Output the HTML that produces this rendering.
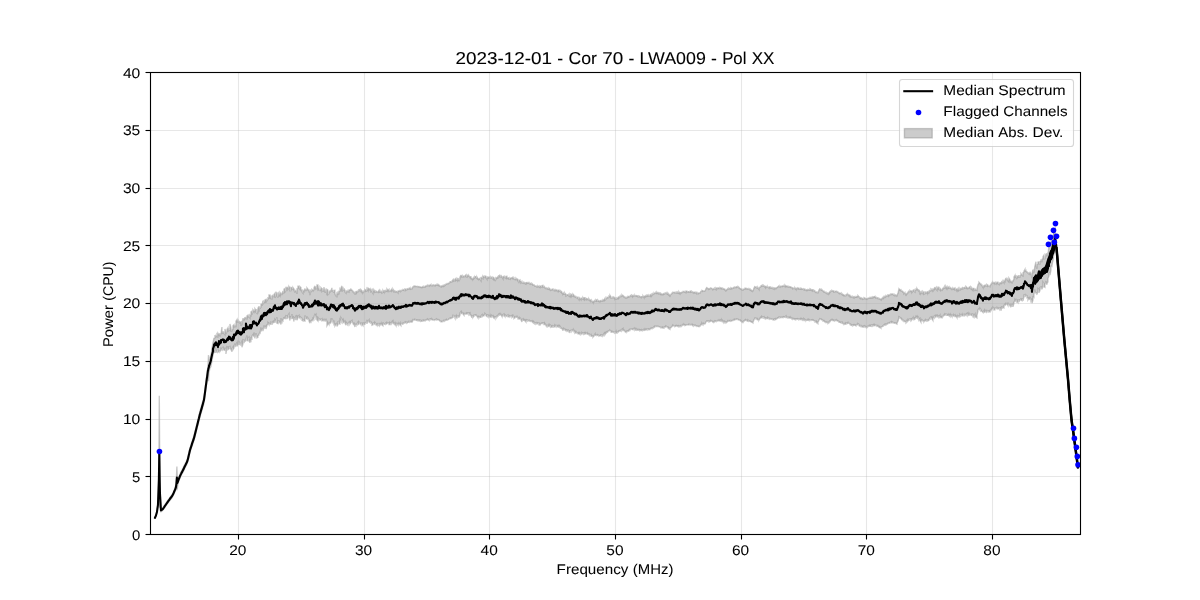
<!DOCTYPE html>
<html lang="en"><head><meta charset="utf-8"><title>2023-12-01 - Cor 70 - LWA009 - Pol XX</title>
<style>html,body{margin:0;padding:0;background:#fff;}body{width:1200px;height:600px;overflow:hidden;}svg{display:block;}text{font-family:"Liberation Sans",sans-serif;fill:#000;text-rendering:geometricPrecision;}svg{will-change:transform;}.tk{font-size:14.1px;stroke:#000;stroke-width:0.04px;}.ti{font-size:17.2px;stroke:#000;stroke-width:0.08px;}</style></head><body>
<svg width="1200" height="600" viewBox="0 0 1200 600">
<defs><clipPath id="ax"><rect x="150.5" y="72.5" width="930" height="462"/></clipPath></defs>
<rect x="0" y="0" width="1200" height="600" fill="#ffffff"/>
<g clip-path="url(#ax)">
<path d="M154.95,517.14 L154.95,517.12 L155.95,514.89 L155.95,514.90 L156.95,511.20 L156.95,511.18 L157.95,503.87 L157.95,503.89 L158.90,460.97 L158.90,460.99 L158.95,454.46 L158.95,454.45 L159.30,395.68 L159.30,395.64 L159.70,460.91 L159.70,460.93 L159.95,488.80 L159.95,488.82 L160.95,509.14 L160.95,509.16 L161.95,508.64 L161.95,508.60 L162.95,507.79 L162.95,507.81 L163.95,506.31 L163.95,506.29 L164.95,504.83 L164.95,504.79 L165.95,503.26 L165.95,503.30 L166.95,501.76 L166.95,501.78 L167.95,500.31 L167.95,500.29 L168.95,498.96 L168.95,498.93 L169.95,497.58 L169.95,497.57 L170.95,496.21 L170.95,496.24 L171.95,494.82 L171.95,494.84 L172.95,493.08 L172.95,493.10 L173.95,490.81 L173.95,490.77 L174.95,488.44 L174.95,488.47 L175.95,484.52 L175.95,484.49 L176.40,478.66 L176.40,478.62 L176.90,466.55 L176.90,466.56 L176.95,467.84 L176.95,467.87 L177.30,477.00 L177.30,476.98 L177.95,479.71 L177.95,479.67 L178.95,476.99 L178.95,476.94 L179.95,474.25 L179.95,474.23 L180.95,472.17 L180.95,472.25 L181.95,470.21 L181.95,470.19 L182.95,468.14 L182.95,468.17 L183.95,466.06 L183.95,466.14 L184.95,464.04 L184.95,463.98 L185.95,461.99 L185.95,461.99 L186.95,460.01 L186.95,459.98 L187.95,456.77 L187.95,456.82 L188.95,452.45 L188.95,452.39 L189.95,448.09 L189.95,448.02 L190.95,444.91 L190.95,444.89 L191.95,441.76 L191.95,441.81 L192.95,438.70 L192.95,438.73 L193.95,435.69 L193.95,435.65 L194.95,431.71 L194.95,431.78 L195.95,427.65 L195.95,427.69 L196.95,423.51 L196.95,423.58 L197.95,419.48 L197.95,419.58 L198.95,415.44 L198.95,415.41 L199.95,411.23 L199.95,411.35 L200.95,407.70 L200.95,407.80 L201.95,404.20 L201.95,404.24 L202.95,400.65 L202.95,400.58 L203.95,396.93 L203.95,397.03 L204.95,389.62 L204.95,389.68 L205.95,381.99 L205.95,382.08 L206.95,374.26 L206.95,374.53 L207.95,366.21 L207.95,366.30 L208.50,355.04 L208.50,355.36 L208.95,360.55 L208.95,360.58 L209.95,358.95 L209.95,358.43 L210.95,354.85 L210.95,354.56 L211.95,349.22 L211.95,348.64 L212.95,342.74 L212.95,343.25 L213.95,337.80 L213.95,338.49 L214.95,337.86 L214.95,334.95 L215.95,337.40 L215.95,335.69 L216.95,336.55 L216.95,332.72 L217.95,337.72 L217.95,333.20 L218.95,334.64 L218.95,335.71 L219.95,333.36 L219.95,336.64 L220.95,333.32 L220.95,334.37 L221.95,326.97 L221.95,333.82 L222.95,331.03 L222.95,333.95 L223.95,331.56 L223.95,333.13 L224.95,334.65 L224.95,328.88 L225.95,332.69 L225.95,333.94 L226.95,331.49 L226.95,329.47 L227.95,327.73 L227.95,331.81 L228.95,327.79 L228.95,330.40 L229.95,330.01 L229.95,323.96 L230.95,327.91 L230.95,331.02 L231.95,330.84 L231.95,329.40 L232.95,329.32 L232.95,325.86 L233.95,324.83 L233.95,327.49 L234.95,325.23 L234.95,324.87 L235.95,327.16 L235.95,321.22 L236.95,319.67 L236.95,322.73 L237.95,319.17 L237.95,321.46 L238.95,322.21 L238.95,320.64 L239.95,323.74 L239.95,321.86 L240.95,322.28 L240.95,326.01 L241.95,321.01 L241.95,325.26 L242.95,318.17 L242.95,320.57 L243.95,318.31 L243.95,319.80 L244.95,317.33 L244.95,318.83 L245.95,317.31 L245.95,316.63 L246.95,319.64 L246.95,315.95 L247.95,315.21 L247.95,317.09 L248.95,315.95 L248.95,316.44 L249.95,317.91 L249.95,314.89 L250.95,315.60 L250.95,311.78 L251.95,311.13 L251.95,314.59 L252.95,312.01 L252.95,309.97 L253.95,311.52 L253.95,310.49 L254.95,311.23 L254.95,308.81 L255.95,310.29 L255.95,312.51 L256.95,313.44 L256.95,308.93 L257.95,313.60 L257.95,308.22 L258.95,306.39 L258.95,311.68 L259.95,306.31 L259.95,308.32 L260.95,307.13 L260.95,304.37 L261.95,303.97 L261.95,305.88 L262.95,300.75 L262.95,304.05 L263.95,302.94 L263.95,301.17 L264.95,301.88 L264.95,300.00 L265.95,299.41 L265.95,302.52 L266.95,298.83 L266.95,300.75 L267.95,299.21 L267.95,296.99 L268.95,298.82 L268.95,294.92 L269.95,294.96 L269.95,298.59 L270.95,295.16 L270.95,298.58 L271.95,298.78 L271.95,297.28 L272.95,294.65 L272.95,296.37 L273.95,296.63 L273.95,294.51 L274.95,293.23 L274.95,297.85 L275.95,295.54 L275.95,291.75 L276.95,294.58 L276.95,295.71 L277.95,297.66 L277.95,292.22 L278.95,296.69 L278.95,293.57 L279.95,295.32 L279.95,292.41 L280.95,293.81 L280.95,294.66 L281.95,293.22 L281.95,293.93 L282.95,291.08 L282.95,293.43 L283.95,292.06 L283.95,289.17 L284.95,288.57 L284.95,292.04 L285.95,290.83 L285.95,286.75 L286.95,288.96 L286.95,287.93 L287.95,287.27 L287.95,289.29 L288.95,287.89 L288.95,286.39 L289.95,287.85 L289.95,290.72 L290.95,290.65 L290.95,287.47 L291.95,287.71 L291.95,289.11 L292.95,289.45 L292.95,287.43 L293.95,288.90 L293.95,289.82 L294.95,292.55 L294.95,290.20 L295.95,291.44 L295.95,290.25 L296.95,293.92 L296.95,288.78 L297.95,288.52 L297.95,286.30 L298.95,286.30 L298.95,287.51 L299.95,289.18 L299.95,286.65 L300.95,287.52 L300.95,289.29 L301.95,290.62 L301.95,291.81 L302.95,293.17 L302.95,290.47 L303.95,291.45 L303.95,290.88 L304.95,288.58 L304.95,290.90 L305.95,288.75 L305.95,291.00 L306.95,289.00 L306.95,287.81 L307.95,289.18 L307.95,290.01 L308.95,289.86 L308.95,292.59 L309.95,290.30 L309.95,295.22 L310.95,289.44 L310.95,291.86 L311.95,290.87 L311.95,289.56 L312.95,290.60 L312.95,289.97 L313.95,289.92 L313.95,287.81 L314.95,285.92 L314.95,287.63 L315.95,286.96 L315.95,288.97 L316.95,288.21 L316.95,284.95 L317.95,285.02 L317.95,288.99 L318.95,287.31 L318.95,290.33 L319.95,290.63 L319.95,288.45 L320.95,290.82 L320.95,287.61 L321.95,288.80 L321.95,291.40 L322.95,290.37 L322.95,288.35 L323.95,291.78 L323.95,287.12 L324.95,292.59 L324.95,289.98 L325.95,292.66 L325.95,288.48 L326.95,295.25 L326.95,289.33 L327.95,290.08 L327.95,294.69 L328.95,293.74 L328.95,292.79 L329.95,290.46 L329.95,292.58 L330.95,289.88 L330.95,291.72 L331.95,287.84 L331.95,290.23 L332.95,290.40 L332.95,291.63 L333.95,292.27 L333.95,290.34 L334.95,290.31 L334.95,293.82 L335.95,296.21 L335.95,293.60 L336.95,297.44 L336.95,293.09 L337.95,293.91 L337.95,291.28 L338.95,294.39 L338.95,291.15 L339.95,291.20 L339.95,288.70 L340.95,289.76 L340.95,288.04 L341.95,285.92 L341.95,291.75 L342.95,286.72 L342.95,289.75 L343.95,290.47 L343.95,288.42 L344.95,290.51 L344.95,291.96 L345.95,292.98 L345.95,290.51 L346.95,292.45 L346.95,291.24 L347.95,291.62 L347.95,290.85 L348.95,291.74 L348.95,289.93 L349.95,289.85 L349.95,290.79 L350.95,288.58 L350.95,290.08 L351.95,289.86 L351.95,289.66 L352.95,292.33 L352.95,290.85 L353.95,293.31 L353.95,291.72 L354.95,294.52 L354.95,291.52 L355.95,294.51 L355.95,291.61 L356.95,291.40 L356.95,292.44 L357.95,290.96 L357.95,292.28 L358.95,290.28 L358.95,289.08 L359.95,291.18 L359.95,288.86 L360.95,292.01 L360.95,289.65 L361.95,290.87 L361.95,292.21 L362.95,291.60 L362.95,292.79 L363.95,291.26 L363.95,291.82 L364.95,291.20 L364.95,289.57 L365.95,290.14 L365.95,291.21 L366.95,290.61 L366.95,288.85 L367.95,290.49 L367.95,287.98 L368.95,288.67 L368.95,289.76 L369.95,288.87 L369.95,289.70 L370.95,289.37 L370.95,291.40 L371.95,290.18 L371.95,291.83 L372.95,293.33 L372.95,289.91 L373.95,291.38 L373.95,289.93 L374.95,291.53 L374.95,291.87 L375.95,291.94 L375.95,291.08 L376.95,291.67 L376.95,292.05 L377.95,292.50 L377.95,291.66 L378.95,290.33 L378.95,292.40 L379.95,289.54 L379.95,291.97 L380.95,291.40 L380.95,291.94 L381.95,291.41 L381.95,292.93 L382.95,292.36 L382.95,290.43 L383.95,292.06 L383.95,289.90 L384.95,292.62 L384.95,290.01 L385.95,291.90 L385.95,290.61 L386.95,291.22 L386.95,288.94 L387.95,290.23 L387.95,290.57 L388.95,289.47 L388.95,291.59 L389.95,291.23 L389.95,290.51 L390.95,290.77 L390.95,290.34 L391.95,288.80 L391.95,290.83 L392.95,289.71 L392.95,288.62 L393.95,292.52 L393.95,290.01 L394.95,292.18 L394.95,290.58 L395.95,292.75 L395.95,291.57 L396.95,291.32 L396.95,291.56 L397.95,292.77 L397.95,291.33 L398.95,290.74 L398.95,291.14 L399.95,290.68 L399.95,292.08 L400.95,289.94 L400.95,291.24 L401.95,290.14 L401.95,290.27 L402.95,290.24 L402.95,290.08 L403.95,289.53 L403.95,290.47 L404.95,290.64 L404.95,288.98 L405.95,289.18 L405.95,290.06 L406.95,289.74 L406.95,289.08 L407.95,288.65 L407.95,289.08 L408.95,289.05 L408.95,288.73 L409.95,287.79 L409.95,288.82 L410.95,288.52 L410.95,289.15 L411.95,288.71 L411.95,289.12 L412.95,286.62 L412.95,286.63 L413.95,286.53 L413.95,286.10 L414.95,286.44 L414.95,286.09 L415.95,286.38 L415.95,286.34 L416.95,286.48 L416.95,286.55 L417.95,286.78 L417.95,286.46 L418.95,286.53 L418.95,286.73 L419.95,287.23 L419.95,286.85 L420.95,287.23 L420.95,287.06 L421.95,287.16 L421.95,287.26 L422.95,286.43 L422.95,287.33 L423.95,286.71 L423.95,286.96 L424.95,287.09 L424.95,286.61 L425.95,285.82 L425.95,286.47 L426.95,286.11 L426.95,285.64 L427.95,285.52 L427.95,285.18 L428.95,285.93 L428.95,285.30 L429.95,285.14 L429.95,285.38 L430.95,284.49 L430.95,285.52 L431.95,285.78 L431.95,285.45 L432.95,285.37 L432.95,285.13 L433.95,285.54 L433.95,285.01 L434.95,285.72 L434.95,284.99 L435.95,284.76 L435.95,285.09 L436.95,284.93 L436.95,284.60 L437.95,285.37 L437.95,284.42 L438.95,285.28 L438.95,285.04 L439.95,285.88 L439.95,286.25 L440.95,286.86 L440.95,286.42 L441.95,285.72 L441.95,286.59 L442.95,285.74 L442.95,286.09 L443.95,285.28 L443.95,285.93 L444.95,284.88 L444.95,285.37 L445.95,284.45 L445.95,284.12 L446.95,283.91 L446.95,283.66 L447.95,283.85 L447.95,283.35 L448.95,283.21 L448.95,282.98 L449.95,282.53 L449.95,281.86 L450.95,281.60 L450.95,282.00 L451.95,281.93 L451.95,281.10 L452.95,279.83 L452.95,281.16 L453.95,278.69 L453.95,280.99 L454.95,280.36 L454.95,279.40 L455.95,278.36 L455.95,280.40 L456.95,279.25 L456.95,280.74 L457.95,277.95 L457.95,280.37 L458.95,278.90 L458.95,281.29 L459.95,278.93 L459.95,277.17 L460.95,274.98 L460.95,276.31 L461.95,275.52 L461.95,277.08 L462.95,276.79 L462.95,275.92 L463.95,276.22 L463.95,276.82 L464.95,276.55 L464.95,275.79 L465.95,274.80 L465.95,276.51 L466.95,277.02 L466.95,275.26 L467.95,275.88 L467.95,274.53 L468.95,276.83 L468.95,275.69 L469.95,277.38 L469.95,276.67 L470.95,276.70 L470.95,277.74 L471.95,278.27 L471.95,279.11 L472.95,278.54 L472.95,278.99 L473.95,277.19 L473.95,278.51 L474.95,277.17 L474.95,276.59 L475.95,276.44 L475.95,277.66 L476.95,278.46 L476.95,276.82 L477.95,278.59 L477.95,279.00 L478.95,278.63 L478.95,279.25 L479.95,278.26 L479.95,279.26 L480.95,280.71 L480.95,278.21 L481.95,277.20 L481.95,278.09 L482.95,278.74 L482.95,275.96 L483.95,276.99 L483.95,277.18 L484.95,277.57 L484.95,275.97 L485.95,276.23 L485.95,277.58 L486.95,279.09 L486.95,277.30 L487.95,277.96 L487.95,276.92 L488.95,277.29 L488.95,278.50 L489.95,276.53 L489.95,277.71 L490.95,277.94 L490.95,276.88 L491.95,277.77 L491.95,278.22 L492.95,278.98 L492.95,277.12 L493.95,277.83 L493.95,279.48 L494.95,278.58 L494.95,281.09 L495.95,279.26 L495.95,277.71 L496.95,278.21 L496.95,277.85 L497.95,276.71 L497.95,278.66 L498.95,275.15 L498.95,276.67 L499.95,274.67 L499.95,276.92 L500.95,276.75 L500.95,275.29 L501.95,277.34 L501.95,276.82 L502.95,278.58 L502.95,276.90 L503.95,276.25 L503.95,277.54 L504.95,277.45 L504.95,277.07 L505.95,278.17 L505.95,276.44 L506.95,276.36 L506.95,278.13 L507.95,277.84 L507.95,278.30 L508.95,277.73 L508.95,279.26 L509.95,279.43 L509.95,278.19 L510.95,277.88 L510.95,278.48 L511.95,277.65 L511.95,277.98 L512.95,277.29 L512.95,278.58 L513.95,278.02 L513.95,279.05 L514.95,279.60 L514.95,279.14 L515.95,278.87 L515.95,278.42 L516.95,279.73 L516.95,278.74 L517.95,279.40 L517.95,280.29 L518.95,283.14 L518.95,280.40 L519.95,279.94 L519.95,280.96 L520.95,281.11 L520.95,282.76 L521.95,281.70 L521.95,282.84 L522.95,283.19 L522.95,282.70 L523.95,282.79 L523.95,282.49 L524.95,283.56 L524.95,282.95 L525.95,283.73 L525.95,282.54 L526.95,282.42 L526.95,283.17 L527.95,282.64 L527.95,283.18 L528.95,282.71 L528.95,283.35 L529.95,284.03 L529.95,283.23 L530.95,283.60 L530.95,283.86 L531.95,284.39 L531.95,283.39 L532.95,284.44 L532.95,285.15 L533.95,284.92 L533.95,285.22 L534.95,285.63 L534.95,286.30 L535.95,286.16 L535.95,285.62 L536.95,287.51 L536.95,285.48 L537.95,287.34 L537.95,285.86 L538.95,286.76 L538.95,286.57 L539.95,287.30 L539.95,285.85 L540.95,286.34 L540.95,286.86 L541.95,287.19 L541.95,285.61 L542.95,285.42 L542.95,286.65 L543.95,287.21 L543.95,285.73 L544.95,288.28 L544.95,287.13 L545.95,288.98 L545.95,288.26 L546.95,288.81 L546.95,288.09 L547.95,288.87 L547.95,288.65 L548.95,289.31 L548.95,288.06 L549.95,288.86 L549.95,289.74 L550.95,289.74 L550.95,290.18 L551.95,289.59 L551.95,289.21 L552.95,288.96 L552.95,290.18 L553.95,290.70 L553.95,289.89 L554.95,290.56 L554.95,289.84 L555.95,290.54 L555.95,289.75 L556.95,290.37 L556.95,289.70 L557.95,292.00 L557.95,290.25 L558.95,290.01 L558.95,291.46 L559.95,290.77 L559.95,291.09 L560.95,292.16 L560.95,291.08 L561.95,292.10 L561.95,292.93 L562.95,293.15 L562.95,294.02 L563.95,292.68 L563.95,294.23 L564.95,294.24 L564.95,293.17 L565.95,294.17 L565.95,295.98 L566.95,295.27 L566.95,294.66 L567.95,294.85 L567.95,295.07 L568.95,295.95 L568.95,294.92 L569.95,296.38 L569.95,294.41 L570.95,296.05 L570.95,294.17 L571.95,294.69 L571.95,295.92 L572.95,295.83 L572.95,294.07 L573.95,295.26 L573.95,296.33 L574.95,296.18 L574.95,296.88 L575.95,296.58 L575.95,297.54 L576.95,297.88 L576.95,297.27 L577.95,297.27 L577.95,298.47 L578.95,299.79 L578.95,297.86 L579.95,298.85 L579.95,298.24 L580.95,299.45 L580.95,298.44 L581.95,298.00 L581.95,298.72 L582.95,299.33 L582.95,297.48 L583.95,299.01 L583.95,297.69 L584.95,297.63 L584.95,299.72 L585.95,298.65 L585.95,298.22 L586.95,298.66 L586.95,299.58 L587.95,298.85 L587.95,299.33 L588.95,299.97 L588.95,298.91 L589.95,300.64 L589.95,299.78 L590.95,299.94 L590.95,300.73 L591.95,301.63 L591.95,300.85 L592.95,302.52 L592.95,301.80 L593.95,301.07 L593.95,301.92 L594.95,300.36 L594.95,300.78 L595.95,301.22 L595.95,300.13 L596.95,299.65 L596.95,301.15 L597.95,301.42 L597.95,300.28 L598.95,301.27 L598.95,300.93 L599.95,301.55 L599.95,300.70 L600.95,300.39 L600.95,301.37 L601.95,301.36 L601.95,300.55 L602.95,300.78 L602.95,299.83 L603.95,300.46 L603.95,299.87 L604.95,298.18 L604.95,300.26 L605.95,299.32 L605.95,298.60 L606.95,298.26 L606.95,297.27 L607.95,297.30 L607.95,297.84 L608.95,297.48 L608.95,296.03 L609.95,296.48 L609.95,295.33 L610.95,296.79 L610.95,298.03 L611.95,297.94 L611.95,297.73 L612.95,297.73 L612.95,297.14 L613.95,297.83 L613.95,297.16 L614.95,297.93 L614.95,299.20 L615.95,298.21 L615.95,298.88 L616.95,298.92 L616.95,297.98 L617.95,298.18 L617.95,297.40 L618.95,296.72 L618.95,297.93 L619.95,296.42 L619.95,296.68 L620.95,296.62 L620.95,295.98 L621.95,295.74 L621.95,294.80 L622.95,295.99 L622.95,295.14 L623.95,297.05 L623.95,296.14 L624.95,298.03 L624.95,296.46 L625.95,298.75 L625.95,297.75 L626.95,297.80 L626.95,297.08 L627.95,297.16 L627.95,296.29 L628.95,296.54 L628.95,296.98 L629.95,296.60 L629.95,296.01 L630.95,295.16 L630.95,295.42 L631.95,296.38 L631.95,295.23 L632.95,295.74 L632.95,296.44 L633.95,295.14 L633.95,296.00 L634.95,295.62 L634.95,295.51 L635.95,295.90 L635.95,295.60 L636.95,295.65 L636.95,296.22 L637.95,295.97 L637.95,296.78 L638.95,296.72 L638.95,295.93 L639.95,296.44 L639.95,296.75 L640.95,297.51 L640.95,296.68 L641.95,296.55 L641.95,296.79 L642.95,296.61 L642.95,295.86 L643.95,297.39 L643.95,296.38 L644.95,296.07 L644.95,296.54 L645.95,295.50 L645.95,296.58 L646.95,295.59 L646.95,295.95 L647.95,295.02 L647.95,296.07 L648.95,295.53 L648.95,295.93 L649.95,296.14 L649.95,295.18 L650.95,294.25 L650.95,295.81 L651.95,294.52 L651.95,295.38 L652.95,293.59 L652.95,294.56 L653.95,294.08 L653.95,293.74 L654.95,292.87 L654.95,293.00 L655.95,293.49 L655.95,292.53 L656.95,293.08 L656.95,292.20 L657.95,293.41 L657.95,292.94 L658.95,293.42 L658.95,293.06 L659.95,294.01 L659.95,293.23 L660.95,294.11 L660.95,293.42 L661.95,294.43 L661.95,294.14 L662.95,294.19 L662.95,293.93 L663.95,293.41 L663.95,294.29 L664.95,293.46 L664.95,293.59 L665.95,293.47 L665.95,293.13 L666.95,293.85 L666.95,293.04 L667.95,294.17 L667.95,293.50 L668.95,295.12 L668.95,294.25 L669.95,295.50 L669.95,295.14 L670.95,294.47 L670.95,294.16 L671.95,293.54 L671.95,293.05 L672.95,292.56 L672.95,292.20 L673.95,292.61 L673.95,292.48 L674.95,292.24 L674.95,292.80 L675.95,293.00 L675.95,292.55 L676.95,292.94 L676.95,292.21 L677.95,292.93 L677.95,292.35 L678.95,293.29 L678.95,291.80 L679.95,293.29 L679.95,292.59 L680.95,292.81 L680.95,292.57 L681.95,292.25 L681.95,292.59 L682.95,291.91 L682.95,291.44 L683.95,291.40 L683.95,291.74 L684.95,292.26 L684.95,291.82 L685.95,292.42 L685.95,291.05 L686.95,291.07 L686.95,291.74 L687.95,292.11 L687.95,291.59 L688.95,291.45 L688.95,292.00 L689.95,292.07 L689.95,291.34 L690.95,291.03 L690.95,292.25 L691.95,291.78 L691.95,291.72 L692.95,292.69 L692.95,291.89 L693.95,292.49 L693.95,292.33 L694.95,292.06 L694.95,292.96 L695.95,292.45 L695.95,292.79 L696.95,292.43 L696.95,293.74 L697.95,293.44 L697.95,292.96 L698.95,293.16 L698.95,293.44 L699.95,292.71 L699.95,293.40 L700.95,291.03 L700.95,291.69 L701.95,290.91 L701.95,290.33 L702.95,290.83 L702.95,291.41 L703.95,291.17 L703.95,290.95 L704.95,290.97 L704.95,291.27 L705.95,288.84 L705.95,289.15 L706.95,287.04 L706.95,288.19 L707.95,288.61 L707.95,288.42 L708.95,288.81 L708.95,289.11 L709.95,288.42 L709.95,288.76 L710.95,288.15 L710.95,288.01 L711.95,288.47 L711.95,288.84 L712.95,289.14 L712.95,289.42 L713.95,288.42 L713.95,289.38 L714.95,289.04 L714.95,288.41 L715.95,289.47 L715.95,287.84 L716.95,288.46 L716.95,288.33 L717.95,288.51 L717.95,287.83 L718.95,288.11 L718.95,288.51 L719.95,288.47 L719.95,287.71 L720.95,288.49 L720.95,287.74 L721.95,288.18 L721.95,288.60 L722.95,289.04 L722.95,288.52 L723.95,289.31 L723.95,288.80 L724.95,289.30 L724.95,290.02 L725.95,290.21 L725.95,290.46 L726.95,289.46 L726.95,289.81 L727.95,288.62 L727.95,289.02 L728.95,288.78 L728.95,288.30 L729.95,288.78 L729.95,288.60 L730.95,288.71 L730.95,287.70 L731.95,288.34 L731.95,288.74 L732.95,288.24 L732.95,287.91 L733.95,287.22 L733.95,287.72 L734.95,287.45 L734.95,287.18 L735.95,287.49 L735.95,287.12 L736.95,286.61 L736.95,287.02 L737.95,287.21 L737.95,286.92 L738.95,287.88 L738.95,287.26 L739.95,288.41 L739.95,288.38 L740.95,288.72 L740.95,289.08 L741.95,289.17 L741.95,290.07 L742.95,290.16 L742.95,289.58 L743.95,289.16 L743.95,289.36 L744.95,289.27 L744.95,288.29 L745.95,288.27 L745.95,288.41 L746.95,288.84 L746.95,289.02 L747.95,288.63 L747.95,289.29 L748.95,289.47 L748.95,289.09 L749.95,289.84 L749.95,289.20 L750.95,290.21 L750.95,289.71 L751.95,290.83 L751.95,290.59 L752.95,290.74 L752.95,291.18 L753.95,288.00 L753.95,288.76 L754.95,286.08 L754.95,287.06 L755.95,287.21 L755.95,287.44 L756.95,287.88 L756.95,287.37 L757.95,288.32 L757.95,287.56 L758.95,289.22 L758.95,288.41 L759.95,287.10 L759.95,287.37 L760.95,286.63 L760.95,286.10 L761.95,285.29 L761.95,285.82 L762.95,285.96 L762.95,285.41 L763.95,286.20 L763.95,285.70 L764.95,286.94 L764.95,286.09 L765.95,286.62 L765.95,287.63 L766.95,286.26 L766.95,286.90 L767.95,287.19 L767.95,286.94 L768.95,287.95 L768.95,287.01 L769.95,286.80 L769.95,287.68 L770.95,287.46 L770.95,288.07 L771.95,287.70 L771.95,288.18 L772.95,288.59 L772.95,287.95 L773.95,288.93 L773.95,287.99 L774.95,288.57 L774.95,288.12 L775.95,288.51 L775.95,287.83 L776.95,287.66 L776.95,287.48 L777.95,286.63 L777.95,286.83 L778.95,285.93 L778.95,286.40 L779.95,287.06 L779.95,286.32 L780.95,286.43 L780.95,286.28 L781.95,286.58 L781.95,286.06 L782.95,285.86 L782.95,286.31 L783.95,286.34 L783.95,285.81 L784.95,286.72 L784.95,285.03 L785.95,286.13 L785.95,285.93 L786.95,285.99 L786.95,286.30 L787.95,286.38 L787.95,286.89 L788.95,286.77 L788.95,286.55 L789.95,287.26 L789.95,286.60 L790.95,286.90 L790.95,287.27 L791.95,287.82 L791.95,287.60 L792.95,288.00 L792.95,288.73 L793.95,288.18 L793.95,288.20 L794.95,288.82 L794.95,287.77 L795.95,289.29 L795.95,288.25 L796.95,288.69 L796.95,288.29 L797.95,288.55 L797.95,287.81 L798.95,288.33 L798.95,289.24 L799.95,289.23 L799.95,288.61 L800.95,289.13 L800.95,288.15 L801.95,288.71 L801.95,288.97 L802.95,288.94 L802.95,289.28 L803.95,289.88 L803.95,288.90 L804.95,289.33 L804.95,289.68 L805.95,290.39 L805.95,289.70 L806.95,290.34 L806.95,289.77 L807.95,289.94 L807.95,289.54 L808.95,289.95 L808.95,289.76 L809.95,290.08 L809.95,289.04 L810.95,289.99 L810.95,289.55 L811.95,290.58 L811.95,289.71 L812.95,289.73 L812.95,290.75 L813.95,290.79 L813.95,290.33 L814.95,290.93 L814.95,291.73 L815.95,291.90 L815.95,292.34 L816.95,292.16 L816.95,292.60 L817.95,292.86 L817.95,293.21 L818.95,289.99 L818.95,290.50 L819.95,288.41 L819.95,289.21 L820.95,289.97 L820.95,289.60 L821.95,290.25 L821.95,289.72 L822.95,290.95 L822.95,290.83 L823.95,291.43 L823.95,291.92 L824.95,292.34 L824.95,292.00 L825.95,292.96 L825.95,292.66 L826.95,293.44 L826.95,292.80 L827.95,293.91 L827.95,293.04 L828.95,293.55 L828.95,292.77 L829.95,291.62 L829.95,292.32 L830.95,291.01 L830.95,291.49 L831.95,290.88 L831.95,290.64 L832.95,291.20 L832.95,290.68 L833.95,291.02 L833.95,292.15 L834.95,291.95 L834.95,291.41 L835.95,291.12 L835.95,291.51 L836.95,291.42 L836.95,291.85 L837.95,291.95 L837.95,292.14 L838.95,293.25 L838.95,292.79 L839.95,293.14 L839.95,293.42 L840.95,293.11 L840.95,293.75 L841.95,294.54 L841.95,293.56 L842.95,294.94 L842.95,294.38 L843.95,295.00 L843.95,295.35 L844.95,295.32 L844.95,295.89 L845.95,295.64 L845.95,294.83 L846.95,294.53 L846.95,294.37 L847.95,294.78 L847.95,294.34 L848.95,295.79 L848.95,294.90 L849.95,295.32 L849.95,295.81 L850.95,296.05 L850.95,297.14 L851.95,296.61 L851.95,297.16 L852.95,297.59 L852.95,296.66 L853.95,297.58 L853.95,296.06 L854.95,297.99 L854.95,296.97 L855.95,297.11 L855.95,296.56 L856.95,297.06 L856.95,296.37 L857.95,296.17 L857.95,295.58 L858.95,296.76 L858.95,297.06 L859.95,298.28 L859.95,297.51 L860.95,298.32 L860.95,298.06 L861.95,298.79 L861.95,298.14 L862.95,298.84 L862.95,299.28 L863.95,299.03 L863.95,297.72 L864.95,298.42 L864.95,298.22 L865.95,298.94 L865.95,298.58 L866.95,299.11 L866.95,298.65 L867.95,298.62 L867.95,298.30 L868.95,298.32 L868.95,298.03 L869.95,298.13 L869.95,297.51 L870.95,297.98 L870.95,297.51 L871.95,297.98 L871.95,297.36 L872.95,297.76 L872.95,296.72 L873.95,297.13 L873.95,296.83 L874.95,296.30 L874.95,297.13 L875.95,297.11 L875.95,298.14 L876.95,297.81 L876.95,297.54 L877.95,297.98 L877.95,298.65 L878.95,298.74 L878.95,298.43 L879.95,299.24 L879.95,298.84 L880.95,299.50 L880.95,299.38 L881.95,298.39 L881.95,299.07 L882.95,297.49 L882.95,297.95 L883.95,297.03 L883.95,297.69 L884.95,296.27 L884.95,296.77 L885.95,296.24 L885.95,296.66 L886.95,295.57 L886.95,296.07 L887.95,295.69 L887.95,295.00 L888.95,294.78 L888.95,295.76 L889.95,294.57 L889.95,295.01 L890.95,294.30 L890.95,294.52 L891.95,294.04 L891.95,294.37 L892.95,293.94 L892.95,294.59 L893.95,295.30 L893.95,294.90 L894.95,295.38 L894.95,294.67 L895.95,295.63 L895.95,295.17 L896.95,295.61 L896.95,295.47 L897.95,293.18 L897.95,293.52 L898.95,289.02 L898.95,288.72 L899.95,289.59 L899.95,290.21 L900.95,289.84 L900.95,291.08 L901.95,291.37 L901.95,290.94 L902.95,291.52 L902.95,292.30 L903.95,292.42 L903.95,293.65 L904.95,292.64 L904.95,293.53 L905.95,293.72 L905.95,294.58 L906.95,293.38 L906.95,294.01 L907.95,292.36 L907.95,293.21 L908.95,290.78 L908.95,291.85 L909.95,291.47 L909.95,290.45 L910.95,291.42 L910.95,290.80 L911.95,290.96 L911.95,292.32 L912.95,290.95 L912.95,290.39 L913.95,289.72 L913.95,291.24 L914.95,292.09 L914.95,290.18 L915.95,290.10 L915.95,288.25 L916.95,290.11 L916.95,288.37 L917.95,290.01 L917.95,289.21 L918.95,291.32 L918.95,289.70 L919.95,291.73 L919.95,293.22 L920.95,292.01 L920.95,293.59 L921.95,292.11 L921.95,292.35 L922.95,293.64 L922.95,291.43 L923.95,292.46 L923.95,294.10 L924.95,293.83 L924.95,292.20 L925.95,292.68 L925.95,292.37 L926.95,292.99 L926.95,291.89 L927.95,291.50 L927.95,293.28 L928.95,291.56 L928.95,293.31 L929.95,290.11 L929.95,291.18 L930.95,290.36 L930.95,289.41 L931.95,290.73 L931.95,289.57 L932.95,290.58 L932.95,289.13 L933.95,289.54 L933.95,289.00 L934.95,287.15 L934.95,288.85 L935.95,287.52 L935.95,288.72 L936.95,290.11 L936.95,287.76 L937.95,288.80 L937.95,286.43 L938.95,288.57 L938.95,289.07 L939.95,290.03 L939.95,288.28 L940.95,289.52 L940.95,290.48 L941.95,289.69 L941.95,290.30 L942.95,287.88 L942.95,289.02 L943.95,287.32 L943.95,288.34 L944.95,287.55 L944.95,286.49 L945.95,288.03 L945.95,286.29 L946.95,288.06 L946.95,286.60 L947.95,288.85 L947.95,286.65 L948.95,287.65 L948.95,288.23 L949.95,287.85 L949.95,287.22 L950.95,288.55 L950.95,287.83 L951.95,289.83 L951.95,287.76 L952.95,289.98 L952.95,288.04 L953.95,289.13 L953.95,288.51 L954.95,287.95 L954.95,289.71 L955.95,289.77 L955.95,288.98 L956.95,289.00 L956.95,290.22 L957.95,288.67 L957.95,290.37 L958.95,288.76 L958.95,290.36 L959.95,289.15 L959.95,290.02 L960.95,287.95 L960.95,289.27 L961.95,288.06 L961.95,289.57 L962.95,287.09 L962.95,288.87 L963.95,288.51 L963.95,287.85 L964.95,287.28 L964.95,288.11 L965.95,288.15 L965.95,286.46 L966.95,287.44 L966.95,288.33 L967.95,288.08 L967.95,288.57 L968.95,288.02 L968.95,287.35 L969.95,286.76 L969.95,288.16 L970.95,288.87 L970.95,287.55 L971.95,289.21 L971.95,288.13 L972.95,289.79 L972.95,288.35 L973.95,288.34 L973.95,288.91 L974.95,290.94 L974.95,288.53 L975.95,290.47 L975.95,289.65 L976.95,290.34 L976.95,288.84 L977.95,285.03 L977.95,284.69 L978.95,283.21 L978.95,282.22 L979.95,283.24 L979.95,283.76 L980.95,283.93 L980.95,284.69 L981.95,284.84 L981.95,285.55 L982.95,287.33 L982.95,286.22 L983.95,286.74 L983.95,285.45 L984.95,285.13 L984.95,285.93 L985.95,284.81 L985.95,285.88 L986.95,286.41 L986.95,284.54 L987.95,285.22 L987.95,286.02 L988.95,286.38 L988.95,286.17 L989.95,286.69 L989.95,285.62 L990.95,284.60 L990.95,284.17 L991.95,283.21 L991.95,282.60 L992.95,282.89 L992.95,282.16 L993.95,283.43 L993.95,283.11 L994.95,282.43 L994.95,283.17 L995.95,284.00 L995.95,282.68 L996.95,283.24 L996.95,282.13 L997.95,282.17 L997.95,283.62 L998.95,284.49 L998.95,282.45 L999.95,284.48 L999.95,283.11 L1000.95,282.57 L1000.95,283.85 L1001.95,281.11 L1001.95,282.96 L1002.95,281.92 L1002.95,281.27 L1003.95,282.77 L1003.95,280.77 L1004.95,281.56 L1004.95,280.32 L1005.95,277.94 L1005.95,279.47 L1006.95,279.53 L1006.95,279.12 L1007.95,280.76 L1007.95,279.57 L1008.95,281.24 L1008.95,278.19 L1009.95,279.80 L1009.95,280.63 L1010.95,281.04 L1010.95,282.11 L1011.95,281.48 L1011.95,283.54 L1012.95,280.36 L1012.95,281.36 L1013.95,279.05 L1013.95,276.94 L1014.95,275.37 L1014.95,277.41 L1015.95,275.06 L1015.95,276.84 L1016.95,279.10 L1016.95,276.58 L1017.95,276.15 L1017.95,277.85 L1018.95,275.26 L1018.95,276.84 L1019.95,277.00 L1019.95,275.76 L1020.95,275.20 L1020.95,273.53 L1021.95,274.88 L1021.95,274.76 L1022.95,275.71 L1022.95,272.87 L1023.95,272.00 L1023.95,271.23 L1024.95,269.48 L1024.95,270.80 L1025.95,270.35 L1025.95,271.39 L1026.95,271.57 L1026.95,272.32 L1027.95,272.64 L1027.95,273.07 L1028.95,273.94 L1028.95,273.02 L1029.95,273.41 L1029.95,271.78 L1030.95,274.70 L1030.95,273.36 L1031.95,278.15 L1031.95,273.73 L1032.95,269.55 L1032.95,273.35 L1033.95,269.40 L1033.95,272.76 L1034.95,265.48 L1034.95,266.23 L1035.95,261.73 L1035.95,264.50 L1036.95,268.80 L1036.95,264.59 L1037.95,263.99 L1037.95,262.05 L1038.95,261.84 L1038.95,263.73 L1039.95,263.96 L1039.95,261.56 L1040.95,260.86 L1040.95,259.22 L1041.95,262.31 L1041.95,259.49 L1042.95,258.17 L1042.95,256.64 L1043.95,255.08 L1043.95,258.99 L1044.95,258.59 L1044.95,259.25 L1045.95,253.50 L1045.95,255.93 L1046.95,253.12 L1046.95,256.41 L1047.95,252.50 L1047.95,254.48 L1048.95,246.21 L1048.95,245.41 L1049.95,244.19 L1049.95,246.70 L1050.95,241.29 L1050.95,242.39 L1051.95,238.87 L1051.95,237.37 L1052.95,238.46 L1052.95,236.69 L1053.95,232.27 L1053.95,234.36 L1054.90,232.72 L1054.90,233.14 L1054.95,232.54 L1054.95,233.58 L1055.95,239.65 L1055.95,239.76 L1056.00,240.21 L1056.00,239.96 L1056.70,247.35 L1056.70,247.08 L1056.95,250.38 L1056.95,250.33 L1057.95,263.32 L1057.95,263.32 L1058.95,275.30 L1058.95,275.32 L1059.95,287.22 L1059.95,287.22 L1060.95,299.12 L1060.95,299.13 L1061.95,310.83 L1061.95,310.83 L1062.95,322.52 L1062.95,322.51 L1063.95,334.17 L1063.95,334.16 L1064.95,345.23 L1064.95,345.23 L1065.95,355.94 L1065.95,355.95 L1066.95,366.65 L1066.95,366.65 L1067.95,377.32 L1067.95,377.31 L1068.95,389.43 L1068.95,389.42 L1069.95,401.44 L1069.95,401.44 L1070.95,412.59 L1070.95,412.59 L1071.95,421.77 L1071.95,421.78 L1072.95,428.52 L1072.95,428.53 L1073.95,435.83 L1073.95,435.86 L1074.95,443.37 L1074.95,443.37 L1075.95,450.89 L1075.95,450.90 L1076.95,458.64 L1076.95,458.63 L1077.95,466.40 L1077.95,466.41 L1077.95,468.80 L1077.95,468.81 L1076.95,461.07 L1076.95,461.06 L1075.95,453.36 L1075.95,453.35 L1074.95,445.87 L1074.95,445.87 L1073.95,438.36 L1073.95,438.37 L1072.95,431.08 L1072.95,431.08 L1071.95,424.35 L1071.95,424.36 L1070.95,415.20 L1070.95,415.21 L1069.95,404.08 L1069.95,404.09 L1068.95,392.10 L1068.95,392.10 L1067.95,380.02 L1067.95,380.03 L1066.95,369.38 L1066.95,369.39 L1065.95,358.70 L1065.95,358.71 L1064.95,348.02 L1064.95,348.02 L1063.95,336.99 L1063.95,336.99 L1062.95,325.36 L1062.95,325.37 L1061.95,313.71 L1061.95,313.71 L1060.95,302.04 L1060.95,302.05 L1059.95,290.16 L1059.95,290.16 L1058.95,278.28 L1058.95,278.28 L1057.95,266.42 L1057.95,266.42 L1056.95,255.49 L1056.95,255.33 L1056.70,253.06 L1056.70,252.77 L1056.00,246.99 L1056.00,247.20 L1055.95,247.22 L1055.95,246.91 L1054.95,250.23 L1054.95,249.99 L1054.90,250.19 L1054.90,251.56 L1053.95,254.03 L1053.95,253.31 L1052.95,261.29 L1052.95,259.78 L1051.95,265.98 L1051.95,266.61 L1050.95,266.36 L1050.95,270.24 L1049.95,275.18 L1049.95,272.43 L1048.95,273.36 L1048.95,275.99 L1047.95,278.56 L1047.95,281.85 L1046.95,283.76 L1046.95,284.79 L1045.95,282.56 L1045.95,281.03 L1044.95,284.57 L1044.95,287.36 L1043.95,286.85 L1043.95,283.59 L1042.95,282.04 L1042.95,286.13 L1041.95,289.23 L1041.95,286.31 L1040.95,289.24 L1040.95,286.92 L1039.95,287.55 L1039.95,290.50 L1038.95,292.72 L1038.95,289.66 L1037.95,288.70 L1037.95,291.14 L1036.95,294.44 L1036.95,293.15 L1035.95,292.62 L1035.95,293.06 L1034.95,291.50 L1034.95,289.49 L1033.95,294.35 L1033.95,297.48 L1032.95,296.94 L1032.95,300.22 L1031.95,303.24 L1031.95,299.27 L1030.95,300.84 L1030.95,299.35 L1029.95,297.08 L1029.95,299.45 L1028.95,298.80 L1028.95,298.27 L1027.95,299.81 L1027.95,297.62 L1026.95,297.93 L1026.95,295.61 L1025.95,295.62 L1025.95,294.41 L1024.95,297.06 L1024.95,294.58 L1023.95,294.94 L1023.95,296.69 L1022.95,300.91 L1022.95,298.48 L1021.95,298.90 L1021.95,300.60 L1020.95,299.90 L1020.95,298.29 L1019.95,300.35 L1019.95,299.29 L1018.95,301.88 L1018.95,300.31 L1017.95,299.98 L1017.95,302.73 L1016.95,301.57 L1016.95,300.84 L1015.95,298.82 L1015.95,301.29 L1014.95,299.82 L1014.95,300.71 L1013.95,302.32 L1013.95,303.39 L1012.95,306.80 L1012.95,303.97 L1011.95,305.63 L1011.95,306.86 L1010.95,303.60 L1010.95,307.20 L1009.95,304.66 L1009.95,305.73 L1008.95,304.34 L1008.95,305.01 L1007.95,302.81 L1007.95,305.62 L1006.95,304.15 L1006.95,303.39 L1005.95,303.65 L1005.95,304.40 L1004.95,305.41 L1004.95,304.17 L1003.95,305.56 L1003.95,307.89 L1002.95,307.49 L1002.95,306.61 L1001.95,308.58 L1001.95,306.15 L1000.95,310.78 L1000.95,307.94 L999.95,309.32 L999.95,307.55 L998.95,307.81 L998.95,308.92 L997.95,308.53 L997.95,307.61 L996.95,309.52 L996.95,306.79 L995.95,308.63 L995.95,307.73 L994.95,308.12 L994.95,309.84 L993.95,310.00 L993.95,308.18 L992.95,307.32 L992.95,308.71 L991.95,308.18 L991.95,308.93 L990.95,310.63 L990.95,309.64 L989.95,311.29 L989.95,311.82 L988.95,312.07 L988.95,310.78 L987.95,311.48 L987.95,310.77 L986.95,310.46 L986.95,312.60 L985.95,310.66 L985.95,311.64 L984.95,310.25 L984.95,312.03 L983.95,312.31 L983.95,310.76 L982.95,312.05 L982.95,312.43 L981.95,311.26 L981.95,311.34 L980.95,310.99 L980.95,309.39 L979.95,308.15 L979.95,310.14 L978.95,308.55 L978.95,308.38 L977.95,310.29 L977.95,311.32 L976.95,315.43 L976.95,317.83 L975.95,317.07 L975.95,316.36 L974.95,317.34 L974.95,314.45 L973.95,316.19 L973.95,314.33 L972.95,317.43 L972.95,314.20 L971.95,314.10 L971.95,315.52 L970.95,315.15 L970.95,314.57 L969.95,314.32 L969.95,313.47 L968.95,315.78 L968.95,314.17 L967.95,315.52 L967.95,313.33 L966.95,314.75 L966.95,313.67 L965.95,314.79 L965.95,314.20 L964.95,315.25 L964.95,313.65 L963.95,316.23 L963.95,314.25 L962.95,314.62 L962.95,315.73 L961.95,315.71 L961.95,314.29 L960.95,315.62 L960.95,315.47 L959.95,314.36 L959.95,316.35 L958.95,316.24 L958.95,316.62 L957.95,315.76 L957.95,317.47 L956.95,315.49 L956.95,317.72 L955.95,315.97 L955.95,316.53 L954.95,316.59 L954.95,315.89 L953.95,314.83 L953.95,316.00 L952.95,315.98 L952.95,315.27 L951.95,315.22 L951.95,316.52 L950.95,314.82 L950.95,315.88 L949.95,314.94 L949.95,316.25 L948.95,314.80 L948.95,315.74 L947.95,314.91 L947.95,315.42 L946.95,315.42 L946.95,314.26 L945.95,314.10 L945.95,314.84 L944.95,314.17 L944.95,315.00 L943.95,315.56 L943.95,314.96 L942.95,316.52 L942.95,316.14 L941.95,316.47 L941.95,317.82 L940.95,317.42 L940.95,316.75 L939.95,317.45 L939.95,315.38 L938.95,316.94 L938.95,316.04 L937.95,316.73 L937.95,316.18 L936.95,316.66 L936.95,315.38 L935.95,316.38 L935.95,316.19 L934.95,317.63 L934.95,315.55 L933.95,316.35 L933.95,317.64 L932.95,317.55 L932.95,320.44 L931.95,318.97 L931.95,317.38 L930.95,318.50 L930.95,317.05 L929.95,317.65 L929.95,319.03 L928.95,319.34 L928.95,320.33 L927.95,320.89 L927.95,320.01 L926.95,320.86 L926.95,320.21 L925.95,319.95 L925.95,320.82 L924.95,320.87 L924.95,320.27 L923.95,321.75 L923.95,320.89 L922.95,320.55 L922.95,320.82 L921.95,319.83 L921.95,320.63 L920.95,320.22 L920.95,322.32 L919.95,320.67 L919.95,318.77 L918.95,319.98 L918.95,318.27 L917.95,316.76 L917.95,318.68 L916.95,317.07 L916.95,317.77 L915.95,316.76 L915.95,318.07 L914.95,317.80 L914.95,319.20 L913.95,319.61 L913.95,318.34 L912.95,319.01 L912.95,317.81 L911.95,319.53 L911.95,319.09 L910.95,320.42 L910.95,319.05 L909.95,319.65 L909.95,318.98 L908.95,319.07 L908.95,319.93 L907.95,321.01 L907.95,320.47 L906.95,321.80 L906.95,320.34 L905.95,322.10 L905.95,321.98 L904.95,321.48 L904.95,321.29 L903.95,321.47 L903.95,320.75 L902.95,319.96 L902.95,320.31 L901.95,319.00 L901.95,319.88 L900.95,318.64 L900.95,318.36 L899.95,317.94 L899.95,317.44 L898.95,316.83 L898.95,317.15 L897.95,321.63 L897.95,320.73 L896.95,323.40 L896.95,324.03 L895.95,323.51 L895.95,323.04 L894.95,322.89 L894.95,323.21 L893.95,323.19 L893.95,322.85 L892.95,322.19 L892.95,322.58 L891.95,322.03 L891.95,322.70 L890.95,322.66 L890.95,321.82 L889.95,322.56 L889.95,322.99 L888.95,323.25 L888.95,322.79 L887.95,323.33 L887.95,323.56 L886.95,324.31 L886.95,323.81 L885.95,324.66 L885.95,323.63 L884.95,325.50 L884.95,324.40 L883.95,325.48 L883.95,324.82 L882.95,325.70 L882.95,326.17 L881.95,326.82 L881.95,326.70 L880.95,327.29 L880.95,328.11 L879.95,327.06 L879.95,327.66 L878.95,327.22 L878.95,326.64 L877.95,326.40 L877.95,325.75 L876.95,326.18 L876.95,325.33 L875.95,325.40 L875.95,325.30 L874.95,324.59 L874.95,325.65 L873.95,325.80 L873.95,324.91 L872.95,325.86 L872.95,324.88 L871.95,325.83 L871.95,324.91 L870.95,324.94 L870.95,326.05 L869.95,326.24 L869.95,325.86 L868.95,326.28 L868.95,325.52 L867.95,326.67 L867.95,326.21 L866.95,326.44 L866.95,327.26 L865.95,326.61 L865.95,327.38 L864.95,326.26 L864.95,326.50 L863.95,326.07 L863.95,326.92 L862.95,326.34 L862.95,327.08 L861.95,326.89 L861.95,326.27 L860.95,326.37 L860.95,325.40 L859.95,325.45 L859.95,326.13 L858.95,325.51 L858.95,324.39 L857.95,323.66 L857.95,324.54 L856.95,324.97 L856.95,324.37 L855.95,325.06 L855.95,325.84 L854.95,325.41 L854.95,324.96 L853.95,325.34 L853.95,324.98 L852.95,325.81 L852.95,324.79 L851.95,325.08 L851.95,325.46 L850.95,325.36 L850.95,324.50 L849.95,324.47 L849.95,323.82 L848.95,323.37 L848.95,323.74 L847.95,321.79 L847.95,323.30 L846.95,323.69 L846.95,322.77 L845.95,323.26 L845.95,324.10 L844.95,324.42 L844.95,323.30 L843.95,324.20 L843.95,323.70 L842.95,323.34 L842.95,323.64 L841.95,322.82 L841.95,322.12 L840.95,322.54 L840.95,322.92 L839.95,322.42 L839.95,322.14 L838.95,322.30 L838.95,321.47 L837.95,320.90 L837.95,321.14 L836.95,320.77 L836.95,320.30 L835.95,320.44 L835.95,319.97 L834.95,320.74 L834.95,320.56 L833.95,320.28 L833.95,320.69 L832.95,320.64 L832.95,320.04 L831.95,320.15 L831.95,319.61 L830.95,320.43 L830.95,320.34 L829.95,321.68 L829.95,321.08 L828.95,322.37 L828.95,321.90 L827.95,323.10 L827.95,322.59 L826.95,322.57 L826.95,322.13 L825.95,322.44 L825.95,321.88 L824.95,321.51 L824.95,322.00 L823.95,321.13 L823.95,320.69 L822.95,321.03 L822.95,320.16 L821.95,319.54 L821.95,319.98 L820.95,319.47 L820.95,319.01 L819.95,318.64 L819.95,318.99 L818.95,319.98 L818.95,320.56 L817.95,322.14 L817.95,323.26 L816.95,322.04 L816.95,322.91 L815.95,322.09 L815.95,321.16 L814.95,321.76 L814.95,321.10 L813.95,320.45 L813.95,320.69 L812.95,320.35 L812.95,319.98 L811.95,320.35 L811.95,319.71 L810.95,320.04 L810.95,319.61 L809.95,319.61 L809.95,320.14 L808.95,319.41 L808.95,320.56 L807.95,319.73 L807.95,320.34 L806.95,320.29 L806.95,320.14 L805.95,320.19 L805.95,320.21 L804.95,319.47 L804.95,320.41 L803.95,318.94 L803.95,320.01 L802.95,319.35 L802.95,319.93 L801.95,318.97 L801.95,319.85 L800.95,318.85 L800.95,319.43 L799.95,319.51 L799.95,318.86 L798.95,319.62 L798.95,318.99 L797.95,318.74 L797.95,319.23 L796.95,318.96 L796.95,319.05 L795.95,318.88 L795.95,319.38 L794.95,318.83 L794.95,319.56 L793.95,318.86 L793.95,319.10 L792.95,318.48 L792.95,318.89 L791.95,318.36 L791.95,318.81 L790.95,317.53 L790.95,318.29 L789.95,317.56 L789.95,318.11 L788.95,318.09 L788.95,317.23 L787.95,317.78 L787.95,317.14 L786.95,317.04 L786.95,317.32 L785.95,317.45 L785.95,316.00 L784.95,316.75 L784.95,317.19 L783.95,316.74 L783.95,317.10 L782.95,316.95 L782.95,317.64 L781.95,317.36 L781.95,317.19 L780.95,317.22 L780.95,317.38 L779.95,317.72 L779.95,317.06 L778.95,316.98 L778.95,317.83 L777.95,317.78 L777.95,318.05 L776.95,318.76 L776.95,318.37 L775.95,319.13 L775.95,319.50 L774.95,319.78 L774.95,318.70 L773.95,319.16 L773.95,320.06 L772.95,319.98 L772.95,319.12 L771.95,318.99 L771.95,319.30 L770.95,318.95 L770.95,318.78 L769.95,318.46 L769.95,318.89 L768.95,318.36 L768.95,318.60 L767.95,317.51 L767.95,318.74 L766.95,318.54 L766.95,318.06 L765.95,318.80 L765.95,318.25 L764.95,318.53 L764.95,317.73 L763.95,317.86 L763.95,316.65 L762.95,316.99 L762.95,317.62 L761.95,316.58 L761.95,317.90 L760.95,317.71 L760.95,317.62 L759.95,318.69 L759.95,318.46 L758.95,320.21 L758.95,319.97 L757.95,319.14 L757.95,319.95 L756.95,319.50 L756.95,318.48 L755.95,318.83 L755.95,318.10 L754.95,318.01 L754.95,318.65 L753.95,319.47 L753.95,319.77 L752.95,322.29 L752.95,322.83 L751.95,322.14 L751.95,322.41 L750.95,321.83 L750.95,321.65 L749.95,321.41 L749.95,320.89 L748.95,321.31 L748.95,320.75 L747.95,319.90 L747.95,321.23 L746.95,320.95 L746.95,320.62 L745.95,319.84 L745.95,320.13 L744.95,320.60 L744.95,320.15 L743.95,321.34 L743.95,320.91 L742.95,321.80 L742.95,322.18 L741.95,321.39 L741.95,321.90 L740.95,320.84 L740.95,321.23 L739.95,320.46 L739.95,319.75 L738.95,319.57 L738.95,320.11 L737.95,319.76 L737.95,319.10 L736.95,318.86 L736.95,319.26 L735.95,319.17 L735.95,319.39 L734.95,319.23 L734.95,319.89 L733.95,320.28 L733.95,319.38 L732.95,320.06 L732.95,320.59 L731.95,320.48 L731.95,320.81 L730.95,321.16 L730.95,320.48 L729.95,320.51 L729.95,320.92 L728.95,321.13 L728.95,320.67 L727.95,320.58 L727.95,321.13 L726.95,322.10 L726.95,321.88 L725.95,322.76 L725.95,322.31 L724.95,321.44 L724.95,322.08 L723.95,321.52 L723.95,322.17 L722.95,320.94 L722.95,321.91 L721.95,320.13 L721.95,321.13 L720.95,320.32 L720.95,321.00 L719.95,320.16 L719.95,321.04 L718.95,320.80 L718.95,320.59 L717.95,320.91 L717.95,320.33 L716.95,321.24 L716.95,320.73 L715.95,320.85 L715.95,321.39 L714.95,320.93 L714.95,321.55 L713.95,321.53 L713.95,322.09 L712.95,321.56 L712.95,322.14 L711.95,321.29 L711.95,321.21 L710.95,320.53 L710.95,320.97 L709.95,321.52 L709.95,321.23 L708.95,321.85 L708.95,321.05 L707.95,321.06 L707.95,321.41 L706.95,320.81 L706.95,320.38 L705.95,322.27 L705.95,321.92 L704.95,324.32 L704.95,324.03 L703.95,323.31 L703.95,323.96 L702.95,323.94 L702.95,324.51 L701.95,323.17 L701.95,324.71 L700.95,324.40 L700.95,324.72 L699.95,325.91 L699.95,326.32 L698.95,326.26 L698.95,326.65 L697.95,326.43 L697.95,326.09 L696.95,326.30 L696.95,326.08 L695.95,325.90 L695.95,325.60 L694.95,325.55 L694.95,325.16 L693.95,325.72 L693.95,325.16 L692.95,324.81 L692.95,325.88 L691.95,324.85 L691.95,324.40 L690.95,324.87 L690.95,324.56 L689.95,324.58 L689.95,324.51 L688.95,324.15 L688.95,324.97 L687.95,324.89 L687.95,324.52 L686.95,324.64 L686.95,324.78 L685.95,324.82 L685.95,325.16 L684.95,325.54 L684.95,325.02 L683.95,324.97 L683.95,324.59 L682.95,325.15 L682.95,324.49 L681.95,325.76 L681.95,325.34 L680.95,325.45 L680.95,326.06 L679.95,326.14 L679.95,326.48 L678.95,325.84 L678.95,326.55 L677.95,325.93 L677.95,326.50 L676.95,325.71 L676.95,326.03 L675.95,325.74 L675.95,326.00 L674.95,326.55 L674.95,325.60 L673.95,325.49 L673.95,325.88 L672.95,325.19 L672.95,325.73 L671.95,326.61 L671.95,326.36 L670.95,327.46 L670.95,327.75 L669.95,328.51 L669.95,328.97 L668.95,327.84 L668.95,328.71 L667.95,327.86 L667.95,327.22 L666.95,326.93 L666.95,326.69 L665.95,325.98 L665.95,326.66 L664.95,327.25 L664.95,326.63 L663.95,327.34 L663.95,327.87 L662.95,327.23 L662.95,328.13 L661.95,327.81 L661.95,327.30 L660.95,327.67 L660.95,327.42 L659.95,326.97 L659.95,327.12 L658.95,326.82 L658.95,326.59 L657.95,326.61 L657.95,326.17 L656.95,326.16 L656.95,326.44 L655.95,326.32 L655.95,326.11 L654.95,326.16 L654.95,326.86 L653.95,327.59 L653.95,326.86 L652.95,328.00 L652.95,327.64 L651.95,327.83 L651.95,328.60 L650.95,328.24 L650.95,328.73 L649.95,329.04 L649.95,329.59 L648.95,329.78 L648.95,329.14 L647.95,329.46 L647.95,328.80 L646.95,328.87 L646.95,329.88 L645.95,329.18 L645.95,329.71 L644.95,330.17 L644.95,329.90 L643.95,330.29 L643.95,329.26 L642.95,330.33 L642.95,329.80 L641.95,330.21 L641.95,330.54 L640.95,330.42 L640.95,329.89 L639.95,330.57 L639.95,329.98 L638.95,330.21 L638.95,329.55 L637.95,329.93 L637.95,329.68 L636.95,330.17 L636.95,329.31 L635.95,329.85 L635.95,329.16 L634.95,330.07 L634.95,328.54 L633.95,329.31 L633.95,328.41 L632.95,329.30 L632.95,329.65 L631.95,329.49 L631.95,328.83 L630.95,328.98 L630.95,329.28 L629.95,329.22 L629.95,330.29 L628.95,330.08 L628.95,330.92 L627.95,331.21 L627.95,330.69 L626.95,330.91 L626.95,331.72 L625.95,331.55 L625.95,332.33 L624.95,331.60 L624.95,331.11 L623.95,330.79 L623.95,330.16 L622.95,330.32 L622.95,329.00 L621.95,330.50 L621.95,329.32 L620.95,330.12 L620.95,330.65 L619.95,330.51 L619.95,331.08 L618.95,330.86 L618.95,331.40 L617.95,332.35 L617.95,331.43 L616.95,332.10 L616.95,332.87 L615.95,332.93 L615.95,331.22 L614.95,332.44 L614.95,331.76 L613.95,331.81 L613.95,332.56 L612.95,331.85 L612.95,331.99 L611.95,331.49 L611.95,332.26 L610.95,332.13 L610.95,331.04 L609.95,330.22 L609.95,330.36 L608.95,330.78 L608.95,331.02 L607.95,331.12 L607.95,331.91 L606.95,332.48 L606.95,331.40 L605.95,333.59 L605.95,333.08 L604.95,334.74 L604.95,333.23 L603.95,334.72 L603.95,333.73 L602.95,335.42 L602.95,334.96 L601.95,335.73 L601.95,335.11 L600.95,334.88 L600.95,335.67 L599.95,335.80 L599.95,335.57 L598.95,336.14 L598.95,335.56 L597.95,334.85 L597.95,335.29 L596.95,335.52 L596.95,334.90 L595.95,334.57 L595.95,335.02 L594.95,335.39 L594.95,334.18 L593.95,335.74 L593.95,336.06 L592.95,337.16 L592.95,336.29 L591.95,335.65 L591.95,336.30 L590.95,336.19 L590.95,334.38 L589.95,334.69 L589.95,335.61 L588.95,333.14 L588.95,334.80 L587.95,333.45 L587.95,334.34 L586.95,334.04 L586.95,333.30 L585.95,332.91 L585.95,333.56 L584.95,334.15 L584.95,333.05 L583.95,334.05 L583.95,332.73 L582.95,333.42 L582.95,333.61 L581.95,332.66 L581.95,333.81 L580.95,333.68 L580.95,333.87 L579.95,332.85 L579.95,334.43 L578.95,333.24 L578.95,333.96 L577.95,333.88 L577.95,332.95 L576.95,332.51 L576.95,333.55 L575.95,331.06 L575.95,332.52 L574.95,333.17 L574.95,331.22 L573.95,331.66 L573.95,330.29 L572.95,330.48 L572.95,329.71 L571.95,331.19 L571.95,330.11 L570.95,330.34 L570.95,330.84 L569.95,330.79 L569.95,332.88 L568.95,330.84 L568.95,331.19 L567.95,329.27 L567.95,331.30 L566.95,330.36 L566.95,330.65 L565.95,329.83 L565.95,330.82 L564.95,329.90 L564.95,329.46 L563.95,328.50 L563.95,330.31 L562.95,328.41 L562.95,330.81 L561.95,327.96 L561.95,328.69 L560.95,328.20 L560.95,327.65 L559.95,326.16 L559.95,327.23 L558.95,326.00 L558.95,327.02 L557.95,326.14 L557.95,327.00 L556.95,326.58 L556.95,325.57 L555.95,325.31 L555.95,326.60 L554.95,325.33 L554.95,326.73 L553.95,327.10 L553.95,325.77 L552.95,325.95 L552.95,327.27 L551.95,325.02 L551.95,327.18 L550.95,327.00 L550.95,325.84 L549.95,324.71 L549.95,326.58 L548.95,325.20 L548.95,326.00 L547.95,326.69 L547.95,325.35 L546.95,325.30 L546.95,326.26 L545.95,325.32 L545.95,325.50 L544.95,323.71 L544.95,324.60 L543.95,324.54 L543.95,322.72 L542.95,322.75 L542.95,323.60 L541.95,323.07 L541.95,323.44 L540.95,323.69 L540.95,323.02 L539.95,325.42 L539.95,323.31 L538.95,325.40 L538.95,322.90 L537.95,322.77 L537.95,323.58 L536.95,323.78 L536.95,321.93 L535.95,324.21 L535.95,322.90 L534.95,322.62 L534.95,323.45 L533.95,321.98 L533.95,323.08 L532.95,321.67 L532.95,322.60 L531.95,321.63 L531.95,321.12 L530.95,321.36 L530.95,321.01 L529.95,321.18 L529.95,320.86 L528.95,320.75 L528.95,320.37 L527.95,321.03 L527.95,320.29 L526.95,319.84 L526.95,320.72 L525.95,320.10 L525.95,321.90 L524.95,320.48 L524.95,320.99 L523.95,319.88 L523.95,320.25 L522.95,320.46 L522.95,319.03 L521.95,319.83 L521.95,321.89 L520.95,319.79 L520.95,319.07 L519.95,317.91 L519.95,319.00 L518.95,318.99 L518.95,318.24 L517.95,318.66 L517.95,317.36 L516.95,317.18 L516.95,316.52 L515.95,317.25 L515.95,316.53 L514.95,316.81 L514.95,317.69 L513.95,318.57 L513.95,316.58 L512.95,314.72 L512.95,316.62 L511.95,317.49 L511.95,315.52 L510.95,316.36 L510.95,315.80 L509.95,315.54 L509.95,316.60 L508.95,316.35 L508.95,317.09 L507.95,316.47 L507.95,314.93 L506.95,315.58 L506.95,316.20 L505.95,315.39 L505.95,315.82 L504.95,315.10 L504.95,316.65 L503.95,315.30 L503.95,314.09 L502.95,314.69 L502.95,316.62 L501.95,314.80 L501.95,316.54 L500.95,314.89 L500.95,314.58 L499.95,314.94 L499.95,313.99 L498.95,315.11 L498.95,314.36 L497.95,315.79 L497.95,315.31 L496.95,317.05 L496.95,315.62 L495.95,317.53 L495.95,317.16 L494.95,316.94 L494.95,318.46 L493.95,316.82 L493.95,318.53 L492.95,316.43 L492.95,316.59 L491.95,315.57 L491.95,317.30 L490.95,314.98 L490.95,317.27 L489.95,316.79 L489.95,315.36 L488.95,316.81 L488.95,314.88 L487.95,316.90 L487.95,315.01 L486.95,314.96 L486.95,316.54 L485.95,315.63 L485.95,314.45 L484.95,313.44 L484.95,314.63 L483.95,314.80 L483.95,315.97 L482.95,316.04 L482.95,314.53 L481.95,317.32 L481.95,314.91 L480.95,316.07 L480.95,317.18 L479.95,317.39 L479.95,316.91 L478.95,316.38 L478.95,317.40 L477.95,316.72 L477.95,317.84 L476.95,316.33 L476.95,316.12 L475.95,315.37 L475.95,314.97 L474.95,315.60 L474.95,314.78 L473.95,315.00 L473.95,316.09 L472.95,317.58 L472.95,316.06 L471.95,315.87 L471.95,317.76 L470.95,315.62 L470.95,315.17 L469.95,315.10 L469.95,313.34 L468.95,314.52 L468.95,312.71 L467.95,312.66 L467.95,313.83 L466.95,313.19 L466.95,314.03 L465.95,313.88 L465.95,313.26 L464.95,314.12 L464.95,313.80 L463.95,313.38 L463.95,315.25 L462.95,313.95 L462.95,313.26 L461.95,312.31 L461.95,313.28 L460.95,313.65 L460.95,311.72 L459.95,313.04 L459.95,315.26 L458.95,317.47 L458.95,315.83 L457.95,317.18 L457.95,316.21 L456.95,315.89 L456.95,316.69 L455.95,318.49 L455.95,315.86 L454.95,317.36 L454.95,316.45 L453.95,316.62 L453.95,315.47 L452.95,315.29 L452.95,317.30 L451.95,317.99 L451.95,317.61 L450.95,317.98 L450.95,318.39 L449.95,318.59 L449.95,318.19 L448.95,318.76 L448.95,319.19 L447.95,319.79 L447.95,319.43 L446.95,319.54 L446.95,319.88 L445.95,320.19 L445.95,319.75 L444.95,320.81 L444.95,320.48 L443.95,320.35 L443.95,321.04 L442.95,321.23 L442.95,321.36 L441.95,321.26 L441.95,321.91 L440.95,321.90 L440.95,321.26 L439.95,321.06 L439.95,320.91 L438.95,320.20 L438.95,319.78 L437.95,319.80 L437.95,319.63 L436.95,319.95 L436.95,319.34 L435.95,319.61 L435.95,319.24 L434.95,319.99 L434.95,319.68 L433.95,319.91 L433.95,319.58 L432.95,319.53 L432.95,320.16 L431.95,319.83 L431.95,319.21 L430.95,319.66 L430.95,318.70 L429.95,319.59 L429.95,319.06 L428.95,319.54 L428.95,320.32 L427.95,319.40 L427.95,319.68 L426.95,319.86 L426.95,319.41 L425.95,320.31 L425.95,319.93 L424.95,320.48 L424.95,320.72 L423.95,320.36 L423.95,320.83 L422.95,320.96 L422.95,320.23 L421.95,320.58 L421.95,321.23 L420.95,321.07 L420.95,320.54 L419.95,320.10 L419.95,321.06 L418.95,320.33 L418.95,320.64 L417.95,320.08 L417.95,320.56 L416.95,320.04 L416.95,320.61 L415.95,320.24 L415.95,319.61 L414.95,319.24 L414.95,320.02 L413.95,320.10 L413.95,319.72 L412.95,319.59 L412.95,320.38 L411.95,322.46 L411.95,322.18 L410.95,322.07 L410.95,321.33 L409.95,322.15 L409.95,321.59 L408.95,321.36 L408.95,322.19 L407.95,322.19 L407.95,322.41 L406.95,323.15 L406.95,322.17 L405.95,322.01 L405.95,322.67 L404.95,322.80 L404.95,322.10 L403.95,322.89 L403.95,323.21 L402.95,323.15 L402.95,324.73 L401.95,322.78 L401.95,323.39 L400.95,323.36 L400.95,325.62 L399.95,324.48 L399.95,323.14 L398.95,324.74 L398.95,323.89 L397.95,324.46 L397.95,323.31 L396.95,324.70 L396.95,324.03 L395.95,322.95 L395.95,325.56 L394.95,324.03 L394.95,324.96 L393.95,321.96 L393.95,323.93 L392.95,322.83 L392.95,321.55 L391.95,323.18 L391.95,321.93 L390.95,323.48 L390.95,323.42 L389.95,322.42 L389.95,324.60 L388.95,324.60 L388.95,322.78 L387.95,323.06 L387.95,323.81 L386.95,321.98 L386.95,323.67 L385.95,324.26 L385.95,322.77 L384.95,323.90 L384.95,324.41 L383.95,323.98 L383.95,324.14 L382.95,322.20 L382.95,325.73 L381.95,324.96 L381.95,323.97 L380.95,324.50 L380.95,323.52 L379.95,325.17 L379.95,323.05 L378.95,326.20 L378.95,323.59 L377.95,323.54 L377.95,325.81 L376.95,323.58 L376.95,325.44 L375.95,324.15 L375.95,323.62 L374.95,322.44 L374.95,324.34 L373.95,323.56 L373.95,322.66 L372.95,323.10 L372.95,324.81 L371.95,325.19 L371.95,323.31 L370.95,322.98 L370.95,321.70 L369.95,321.25 L369.95,322.72 L368.95,321.80 L368.95,320.11 L367.95,321.75 L367.95,320.20 L366.95,323.92 L366.95,319.86 L365.95,323.39 L365.95,322.48 L364.95,322.88 L364.95,324.32 L363.95,324.55 L363.95,322.37 L362.95,324.39 L362.95,325.54 L361.95,324.40 L361.95,323.03 L360.95,323.44 L360.95,324.74 L359.95,323.18 L359.95,322.87 L358.95,322.02 L358.95,323.86 L357.95,324.64 L357.95,322.14 L356.95,323.73 L356.95,324.48 L355.95,324.58 L355.95,325.30 L354.95,323.92 L354.95,327.12 L353.95,323.18 L353.95,324.73 L352.95,323.68 L352.95,322.60 L351.95,322.05 L351.95,320.49 L350.95,321.41 L350.95,322.66 L349.95,324.13 L349.95,322.18 L348.95,323.38 L348.95,322.20 L347.95,323.40 L347.95,324.58 L346.95,323.25 L346.95,323.93 L345.95,322.15 L345.95,325.30 L344.95,323.10 L344.95,322.49 L343.95,320.89 L343.95,321.88 L342.95,322.91 L342.95,319.82 L341.95,321.25 L341.95,319.22 L340.95,317.64 L340.95,321.56 L339.95,319.79 L339.95,324.07 L338.95,323.80 L338.95,321.30 L337.95,321.79 L337.95,324.58 L336.95,326.40 L336.95,323.07 L335.95,324.89 L335.95,324.35 L334.95,325.90 L334.95,323.26 L333.95,325.38 L333.95,320.55 L332.95,323.46 L332.95,320.67 L331.95,318.55 L331.95,321.89 L330.95,318.28 L330.95,322.62 L329.95,323.44 L329.95,322.52 L328.95,323.92 L328.95,324.39 L327.95,322.88 L327.95,324.12 L326.95,325.82 L326.95,321.76 L325.95,318.79 L325.95,321.48 L324.95,319.07 L324.95,321.21 L323.95,318.81 L323.95,321.34 L322.95,318.94 L322.95,320.50 L321.95,320.84 L321.95,318.57 L320.95,319.07 L320.95,319.96 L319.95,319.66 L319.95,319.26 L318.95,318.88 L318.95,320.83 L317.95,316.81 L317.95,321.08 L316.95,320.07 L316.95,316.07 L315.95,319.74 L315.95,314.91 L314.95,316.43 L314.95,313.71 L313.95,317.41 L313.95,319.38 L312.95,318.41 L312.95,320.46 L311.95,320.05 L311.95,320.81 L310.95,320.89 L310.95,321.99 L309.95,321.11 L309.95,323.28 L308.95,320.97 L308.95,319.71 L307.95,317.72 L307.95,319.38 L306.95,316.51 L306.95,319.10 L305.95,318.48 L305.95,317.50 L304.95,315.45 L304.95,321.14 L303.95,320.85 L303.95,319.52 L302.95,320.48 L302.95,320.85 L301.95,320.26 L301.95,318.43 L300.95,317.59 L300.95,318.05 L299.95,316.18 L299.95,318.28 L298.95,317.03 L298.95,315.65 L297.95,316.74 L297.95,317.76 L296.95,320.37 L296.95,315.00 L295.95,320.23 L295.95,315.50 L294.95,319.86 L294.95,318.75 L293.95,317.51 L293.95,321.51 L292.95,316.32 L292.95,318.21 L291.95,318.46 L291.95,314.10 L290.95,317.67 L290.95,318.99 L289.95,316.29 L289.95,320.50 L288.95,316.81 L288.95,313.97 L287.95,315.54 L287.95,316.59 L286.95,318.92 L286.95,315.98 L285.95,315.66 L285.95,319.24 L284.95,316.61 L284.95,318.17 L283.95,318.78 L283.95,317.35 L282.95,319.99 L282.95,320.90 L281.95,320.17 L281.95,323.57 L280.95,318.09 L280.95,324.43 L279.95,321.27 L279.95,322.08 L278.95,322.67 L278.95,320.72 L277.95,320.91 L277.95,323.53 L276.95,323.31 L276.95,317.29 L275.95,319.84 L275.95,321.46 L274.95,319.75 L274.95,322.70 L273.95,320.07 L273.95,322.41 L272.95,322.80 L272.95,321.00 L271.95,324.84 L271.95,322.68 L270.95,322.11 L270.95,323.92 L269.95,324.35 L269.95,324.03 L268.95,323.05 L268.95,324.52 L267.95,322.88 L267.95,324.57 L266.95,325.31 L266.95,325.60 L265.95,329.02 L265.95,326.16 L264.95,327.48 L264.95,325.75 L263.95,328.21 L263.95,325.28 L262.95,331.21 L262.95,328.11 L261.95,330.13 L261.95,328.92 L260.95,331.61 L260.95,327.40 L259.95,334.16 L259.95,331.96 L258.95,334.38 L258.95,335.09 L257.95,335.75 L257.95,337.30 L256.95,337.79 L256.95,336.14 L255.95,333.33 L255.95,337.11 L254.95,333.52 L254.95,338.42 L253.95,332.42 L253.95,336.46 L252.95,335.27 L252.95,334.75 L251.95,336.28 L251.95,339.88 L250.95,337.10 L250.95,342.22 L249.95,339.26 L249.95,342.78 L248.95,340.34 L248.95,337.28 L247.95,338.37 L247.95,340.67 L246.95,340.62 L246.95,335.44 L245.95,339.21 L245.95,339.54 L244.95,341.70 L244.95,339.60 L243.95,343.06 L243.95,340.28 L242.95,339.79 L242.95,343.79 L241.95,347.29 L241.95,340.57 L240.95,345.77 L240.95,343.19 L239.95,343.49 L239.95,345.15 L238.95,340.96 L238.95,344.91 L237.95,340.61 L237.95,344.31 L236.95,346.40 L236.95,341.89 L235.95,346.45 L235.95,344.06 L234.95,347.07 L234.95,343.56 L233.95,346.47 L233.95,348.15 L232.95,349.78 L232.95,347.07 L231.95,348.37 L231.95,351.79 L230.95,348.59 L230.95,349.62 L229.95,347.85 L229.95,346.54 L228.95,346.84 L228.95,348.90 L227.95,349.60 L227.95,346.54 L226.95,349.84 L226.95,345.93 L225.95,354.02 L225.95,347.76 L224.95,349.59 L224.95,350.40 L223.95,349.82 L223.95,347.42 L222.95,350.35 L222.95,347.30 L221.95,348.00 L221.95,349.63 L220.95,348.51 L220.95,349.92 L219.95,351.46 L219.95,350.77 L218.95,350.95 L218.95,351.38 L217.95,352.25 L217.95,346.90 L216.95,350.58 L216.95,351.97 L215.95,351.30 L215.95,352.90 L214.95,346.52 L214.95,352.22 L213.95,352.52 L213.95,349.95 L212.95,356.18 L212.95,354.91 L211.95,360.90 L211.95,361.17 L210.95,365.57 L210.95,366.59 L209.95,368.19 L209.95,367.79 L208.95,372.80 L208.95,372.60 L208.50,381.27 L208.50,381.10 L207.95,374.53 L207.95,374.99 L206.95,381.04 L206.95,381.13 L205.95,388.56 L205.95,388.47 L204.95,396.03 L204.95,396.08 L203.95,403.22 L203.95,403.30 L202.95,406.69 L202.95,406.75 L201.95,410.21 L201.95,410.19 L200.95,413.65 L200.95,413.58 L199.95,417.07 L199.95,417.01 L198.95,421.01 L198.95,421.07 L197.95,424.98 L197.95,424.91 L196.95,428.90 L196.95,428.88 L195.95,432.84 L195.95,432.93 L194.95,436.79 L194.95,436.74 L193.95,440.64 L193.95,440.57 L192.95,443.57 L192.95,443.50 L191.95,446.41 L191.95,446.48 L190.95,449.38 L190.95,449.44 L189.95,452.47 L189.95,452.42 L188.95,456.71 L188.95,456.76 L187.95,461.10 L187.95,461.08 L186.95,464.20 L186.95,464.21 L185.95,466.10 L185.95,466.15 L184.95,468.07 L184.95,468.08 L183.95,470.14 L183.95,470.10 L182.95,472.08 L182.95,472.11 L181.95,474.05 L181.95,474.08 L180.95,476.01 L180.95,476.03 L179.95,477.95 L179.95,477.98 L178.95,480.65 L178.95,480.63 L177.95,483.28 L177.95,483.30 L177.30,489.00 L177.30,488.96 L176.95,488.59 L176.95,488.62 L176.90,488.55 L176.90,488.58 L176.40,489.34 L176.40,489.40 L175.95,489.46 L175.95,489.45 L174.95,491.41 L174.95,491.39 L173.95,493.70 L173.95,493.74 L172.95,495.92 L172.95,495.96 L171.95,497.64 L171.95,497.62 L170.95,498.98 L170.95,498.95 L169.95,500.28 L169.95,500.24 L168.95,501.55 L168.95,501.55 L167.95,502.85 L167.95,502.87 L166.95,504.30 L166.95,504.27 L165.95,505.72 L165.95,505.74 L164.95,507.19 L164.95,507.23 L163.95,508.69 L163.95,508.72 L162.95,510.20 L162.95,510.22 L161.95,511.02 L161.95,511.01 L160.95,511.55 L160.95,511.54 L159.95,497.16 L159.95,497.15 L159.70,499.01 L159.70,499.03 L159.30,507.65 L159.30,507.67 L158.95,498.44 L158.95,498.47 L158.90,499.00 L158.90,498.97 L157.95,505.74 L157.95,505.73 L156.95,512.83 L156.95,512.85 L155.95,516.31 L155.95,516.30 L154.95,518.33 L154.95,518.34 Z" fill="#808080" fill-opacity="0.4" stroke="#808080" stroke-opacity="0.4" stroke-width="1.39" stroke-linejoin="miter"/>
<path d="M1053.5,246 V230.5 M1055.5,244 V224 M1056.6,248 V237" stroke="#808080" stroke-opacity="0.35" stroke-width="1" fill="none"/>
</g>
<g stroke="#b0b0b0" stroke-opacity="0.3" stroke-width="1.11" fill="none">
<line x1="238.5" y1="72.5" x2="238.5" y2="534.5"/>
<line x1="364.5" y1="72.5" x2="364.5" y2="534.5"/>
<line x1="489.5" y1="72.5" x2="489.5" y2="534.5"/>
<line x1="615.5" y1="72.5" x2="615.5" y2="534.5"/>
<line x1="741.5" y1="72.5" x2="741.5" y2="534.5"/>
<line x1="866.5" y1="72.5" x2="866.5" y2="534.5"/>
<line x1="992.5" y1="72.5" x2="992.5" y2="534.5"/>
<line x1="150.5" y1="534.5" x2="1080.5" y2="534.5"/>
<line x1="150.5" y1="476.5" x2="1080.5" y2="476.5"/>
<line x1="150.5" y1="419.5" x2="1080.5" y2="419.5"/>
<line x1="150.5" y1="361.5" x2="1080.5" y2="361.5"/>
<line x1="150.5" y1="303.5" x2="1080.5" y2="303.5"/>
<line x1="150.5" y1="245.5" x2="1080.5" y2="245.5"/>
<line x1="150.5" y1="188.5" x2="1080.5" y2="188.5"/>
<line x1="150.5" y1="130.5" x2="1080.5" y2="130.5"/>
<line x1="150.5" y1="72.5" x2="1080.5" y2="72.5"/>
</g>
<g clip-path="url(#ax)">
<path d="M154.95,517.74 L154.95,517.69 L155.95,515.60 L155.95,515.55 L156.95,511.97 L156.95,512.02 L157.95,504.87 L157.95,504.75 L158.90,480.07 L158.90,479.96 L158.95,476.39 L158.95,476.53 L159.30,451.79 L159.30,451.65 L159.70,479.92 L159.70,479.97 L159.95,492.94 L159.95,493.05 L160.95,510.29 L160.95,510.39 L161.95,509.84 L161.95,509.75 L162.95,509.02 L162.95,508.89 L163.95,507.49 L163.95,507.51 L164.95,505.93 L164.95,506.06 L165.95,504.45 L165.95,504.55 L166.95,502.95 L166.95,503.08 L167.95,501.58 L167.95,501.52 L168.95,500.23 L168.95,500.28 L169.95,498.96 L169.95,498.76 L170.95,497.52 L170.95,497.60 L171.95,496.16 L171.95,496.24 L172.95,494.52 L172.95,494.48 L173.95,492.32 L173.95,492.22 L174.95,489.91 L174.95,490.01 L175.95,487.09 L175.95,486.86 L176.40,484.03 L176.40,483.92 L176.90,477.57 L176.90,477.52 L176.95,478.27 L176.95,478.20 L177.30,482.95 L177.30,483.08 L177.95,481.60 L177.95,481.45 L178.95,478.76 L178.95,478.81 L179.95,476.14 L179.95,476.10 L180.95,474.10 L180.95,474.16 L181.95,472.06 L181.95,472.26 L182.95,470.08 L182.95,470.19 L183.95,468.17 L183.95,468.09 L184.95,465.97 L184.95,466.14 L185.95,464.08 L185.95,464.04 L186.95,462.14 L186.95,462.10 L187.95,458.98 L187.95,458.93 L188.95,454.52 L188.95,454.63 L189.95,450.20 L189.95,450.28 L190.95,447.13 L190.95,447.21 L191.95,444.11 L191.95,443.96 L192.95,441.19 L192.95,441.09 L193.95,438.09 L193.95,438.31 L194.95,434.14 L194.95,434.25 L195.95,430.26 L195.95,430.30 L196.95,426.13 L196.95,426.28 L197.95,422.30 L197.95,422.11 L198.95,418.16 L198.95,418.31 L199.95,414.07 L199.95,414.19 L200.95,410.74 L200.95,410.60 L201.95,407.33 L201.95,407.09 L202.95,403.71 L202.95,403.56 L203.95,400.07 L203.95,400.18 L204.95,392.85 L204.95,392.86 L205.95,385.18 L205.95,385.34 L206.95,377.73 L206.95,378.11 L207.95,370.33 L207.95,371.20 L208.50,367.95 L208.50,368.43 L208.95,366.78 L208.95,366.02 L209.95,363.68 L209.95,363.30 L210.95,360.48 L210.95,359.48 L211.95,355.18 L211.95,354.77 L212.95,351.46 L212.95,348.88 L213.95,346.18 L213.95,344.91 L214.95,343.46 L214.95,345.33 L215.95,344.82 L215.95,342.18 L216.95,344.97 L216.95,343.23 L217.95,346.98 L217.95,343.74 L218.95,344.70 L218.95,340.99 L219.95,343.49 L219.95,342.51 L220.95,342.67 L220.95,340.13 L221.95,340.22 L221.95,339.93 L222.95,339.23 L222.95,339.98 L223.95,339.76 L223.95,342.27 L224.95,342.20 L224.95,340.92 L225.95,341.47 L225.95,341.92 L226.95,339.28 L226.95,340.25 L227.95,338.03 L227.95,340.11 L228.95,338.25 L228.95,336.54 L229.95,338.95 L229.95,337.16 L230.95,339.14 L230.95,339.79 L231.95,339.42 L231.95,340.49 L232.95,336.70 L232.95,340.12 L233.95,338.01 L233.95,334.44 L234.95,335.43 L234.95,334.37 L235.95,334.67 L235.95,333.30 L236.95,331.06 L236.95,333.52 L237.95,332.59 L237.95,330.57 L238.95,332.24 L238.95,333.26 L239.95,332.09 L239.95,334.07 L240.95,334.54 L240.95,334.67 L241.95,332.10 L241.95,333.55 L242.95,331.38 L242.95,328.45 L243.95,332.25 L243.95,327.95 L244.95,328.83 L244.95,329.73 L245.95,329.34 L245.95,323.50 L246.95,328.64 L246.95,326.45 L247.95,327.74 L247.95,327.37 L248.95,327.15 L248.95,328.36 L249.95,324.95 L249.95,328.18 L250.95,325.06 L250.95,328.53 L251.95,326.53 L251.95,325.03 L252.95,323.85 L252.95,321.76 L253.95,321.27 L253.95,323.10 L254.95,323.45 L254.95,322.44 L255.95,323.82 L255.95,322.55 L256.95,325.49 L256.95,324.26 L257.95,323.67 L257.95,324.21 L258.95,322.76 L258.95,321.93 L259.95,319.69 L259.95,320.94 L260.95,316.37 L260.95,319.56 L261.95,318.93 L261.95,315.60 L262.95,315.30 L262.95,316.70 L263.95,312.95 L263.95,315.78 L264.95,314.65 L264.95,312.91 L265.95,315.21 L265.95,313.77 L266.95,312.26 L266.95,314.32 L267.95,312.23 L267.95,311.23 L268.95,310.07 L268.95,311.58 L269.95,312.41 L269.95,309.11 L270.95,310.09 L270.95,311.84 L271.95,310.19 L271.95,310.83 L272.95,309.42 L272.95,310.84 L273.95,306.55 L273.95,308.42 L274.95,305.25 L274.95,308.27 L275.95,308.33 L275.95,307.58 L276.95,307.72 L276.95,309.54 L277.95,308.95 L277.95,308.59 L278.95,309.03 L278.95,307.37 L279.95,308.93 L279.95,308.00 L280.95,306.87 L280.95,308.93 L281.95,308.86 L281.95,306.65 L282.95,307.26 L282.95,306.46 L283.95,303.03 L283.95,305.72 L284.95,302.11 L284.95,304.77 L285.95,302.90 L285.95,304.28 L286.95,301.41 L286.95,304.17 L287.95,302.32 L287.95,301.21 L288.95,301.36 L288.95,302.39 L289.95,303.68 L289.95,301.68 L290.95,306.15 L290.95,302.96 L291.95,303.17 L291.95,302.25 L292.95,303.60 L292.95,303.20 L293.95,304.48 L293.95,302.82 L294.95,304.38 L294.95,304.79 L295.95,306.02 L295.95,304.68 L296.95,303.74 L296.95,303.14 L297.95,303.76 L297.95,301.36 L298.95,302.90 L298.95,299.58 L299.95,302.35 L299.95,302.80 L300.95,303.94 L300.95,303.06 L301.95,305.00 L301.95,305.49 L302.95,305.68 L302.95,307.70 L303.95,305.87 L303.95,305.16 L304.95,303.00 L304.95,305.01 L305.95,304.17 L305.95,303.38 L306.95,302.56 L306.95,303.46 L307.95,305.06 L307.95,303.69 L308.95,306.93 L308.95,305.14 L309.95,306.55 L309.95,306.71 L310.95,306.34 L310.95,306.05 L311.95,306.52 L311.95,304.75 L312.95,304.26 L312.95,305.69 L313.95,302.65 L313.95,304.42 L314.95,300.56 L314.95,302.84 L315.95,303.79 L315.95,301.93 L316.95,302.84 L316.95,301.48 L317.95,301.17 L317.95,305.47 L318.95,305.40 L318.95,301.66 L319.95,304.33 L319.95,304.44 L320.95,303.19 L320.95,305.38 L321.95,304.22 L321.95,305.43 L322.95,304.27 L322.95,305.25 L323.95,304.01 L323.95,305.49 L324.95,307.10 L324.95,305.27 L325.95,305.28 L325.95,306.89 L326.95,306.99 L326.95,309.35 L327.95,308.15 L327.95,309.19 L328.95,310.05 L328.95,308.31 L329.95,306.97 L329.95,308.62 L330.95,304.51 L330.95,306.58 L331.95,304.83 L331.95,305.33 L332.95,305.04 L332.95,307.10 L333.95,307.67 L333.95,305.18 L334.95,308.63 L334.95,306.86 L335.95,308.97 L335.95,310.22 L336.95,308.79 L336.95,310.64 L337.95,308.17 L337.95,309.21 L338.95,308.04 L338.95,306.25 L339.95,305.32 L339.95,306.66 L340.95,304.72 L340.95,305.78 L341.95,304.00 L341.95,305.01 L342.95,303.65 L342.95,305.70 L343.95,305.06 L343.95,306.13 L344.95,307.16 L344.95,308.33 L345.95,308.07 L345.95,307.22 L346.95,307.34 L346.95,308.57 L347.95,307.03 L347.95,307.63 L348.95,306.43 L348.95,307.80 L349.95,306.33 L349.95,306.18 L350.95,305.63 L350.95,305.96 L351.95,305.90 L351.95,305.05 L352.95,306.16 L352.95,308.14 L353.95,308.87 L353.95,307.89 L354.95,310.67 L354.95,308.85 L355.95,308.31 L355.95,309.52 L356.95,309.16 L356.95,307.86 L357.95,308.32 L357.95,307.08 L358.95,305.82 L358.95,306.37 L359.95,305.94 L359.95,307.35 L360.95,307.77 L360.95,305.78 L361.95,309.13 L361.95,306.59 L362.95,308.30 L362.95,308.86 L363.95,308.30 L363.95,306.56 L364.95,307.26 L364.95,307.69 L365.95,306.06 L365.95,307.97 L366.95,307.09 L366.95,305.49 L367.95,305.34 L367.95,304.69 L368.95,306.12 L368.95,304.26 L369.95,306.32 L369.95,305.17 L370.95,307.43 L370.95,305.64 L371.95,308.65 L371.95,307.23 L372.95,306.34 L372.95,307.68 L373.95,306.81 L373.95,308.36 L374.95,307.68 L374.95,308.41 L375.95,308.18 L375.95,306.88 L376.95,308.32 L376.95,307.09 L377.95,307.73 L377.95,308.77 L378.95,305.75 L378.95,307.59 L379.95,307.38 L379.95,308.19 L380.95,307.46 L380.95,308.29 L381.95,308.26 L381.95,307.51 L382.95,308.59 L382.95,307.53 L383.95,307.68 L383.95,307.14 L384.95,308.41 L384.95,307.97 L385.95,305.71 L385.95,308.85 L386.95,307.34 L386.95,306.55 L387.95,306.52 L387.95,307.77 L388.95,307.47 L388.95,305.42 L389.95,306.38 L389.95,307.39 L390.95,307.12 L390.95,307.02 L391.95,305.97 L391.95,306.35 L392.95,304.98 L392.95,306.20 L393.95,306.26 L393.95,307.14 L394.95,308.28 L394.95,307.61 L395.95,309.13 L395.95,308.50 L396.95,307.24 L396.95,308.74 L397.95,308.43 L397.95,307.28 L398.95,306.68 L398.95,307.68 L399.95,307.47 L399.95,308.05 L400.95,306.72 L400.95,307.83 L401.95,306.47 L401.95,306.78 L402.95,306.56 L402.95,306.96 L403.95,306.53 L403.95,306.18 L404.95,305.81 L404.95,306.15 L405.95,306.69 L405.95,304.70 L406.95,306.52 L406.95,305.85 L407.95,305.50 L407.95,305.98 L408.95,305.12 L408.95,305.63 L409.95,305.31 L409.95,304.87 L410.95,305.20 L410.95,305.73 L411.95,305.18 L411.95,305.73 L412.95,304.03 L412.95,303.19 L413.95,302.91 L413.95,303.50 L414.95,303.20 L414.95,302.82 L415.95,303.05 L415.95,303.76 L416.95,303.07 L416.95,303.75 L417.95,302.84 L417.95,303.67 L418.95,303.67 L418.95,303.27 L419.95,304.13 L419.95,303.66 L420.95,303.56 L420.95,304.15 L421.95,304.52 L421.95,303.34 L422.95,303.33 L422.95,304.01 L423.95,303.89 L423.95,303.40 L424.95,303.72 L424.95,303.51 L425.95,303.10 L425.95,303.35 L426.95,302.49 L426.95,302.74 L427.95,302.72 L427.95,301.74 L428.95,302.50 L428.95,303.20 L429.95,302.49 L429.95,301.88 L430.95,302.68 L430.95,302.02 L431.95,302.82 L431.95,301.71 L432.95,302.14 L432.95,302.42 L433.95,302.12 L433.95,302.64 L434.95,302.86 L434.95,301.92 L435.95,301.51 L435.95,302.56 L436.95,301.98 L436.95,302.33 L437.95,302.32 L437.95,302.09 L438.95,302.27 L438.95,303.01 L439.95,303.25 L439.95,303.85 L440.95,304.35 L440.95,303.84 L441.95,304.42 L441.95,303.57 L442.95,303.45 L442.95,303.91 L443.95,303.21 L443.95,302.71 L444.95,302.87 L444.95,303.30 L445.95,302.09 L445.95,302.33 L446.95,301.58 L446.95,302.44 L447.95,301.53 L447.95,301.78 L448.95,300.78 L448.95,301.04 L449.95,300.18 L449.95,300.71 L450.95,299.73 L450.95,300.44 L451.95,299.92 L451.95,299.34 L452.95,298.77 L452.95,297.95 L453.95,297.54 L453.95,298.60 L454.95,299.38 L454.95,298.10 L455.95,299.84 L455.95,297.68 L456.95,297.74 L456.95,298.16 L457.95,297.61 L457.95,298.62 L458.95,298.43 L458.95,297.19 L459.95,295.84 L459.95,296.59 L460.95,294.27 L460.95,296.34 L461.95,295.38 L461.95,294.05 L462.95,295.35 L462.95,295.00 L463.95,295.39 L463.95,294.63 L464.95,295.34 L464.95,294.77 L465.95,295.04 L465.95,294.13 L466.95,295.21 L466.95,294.72 L467.95,295.09 L467.95,294.44 L468.95,296.33 L468.95,294.71 L469.95,295.26 L469.95,295.97 L470.95,296.45 L470.95,296.57 L471.95,297.17 L471.95,298.17 L472.95,297.53 L472.95,298.92 L473.95,297.22 L473.95,296.18 L474.95,295.72 L474.95,296.54 L475.95,296.00 L475.95,295.90 L476.95,297.16 L476.95,296.07 L477.95,298.32 L477.95,297.49 L478.95,297.41 L478.95,298.22 L479.95,297.72 L479.95,297.95 L480.95,298.43 L480.95,297.43 L481.95,297.93 L481.95,296.68 L482.95,297.29 L482.95,296.33 L483.95,296.65 L483.95,295.51 L484.95,295.26 L484.95,295.67 L485.95,296.63 L485.95,295.51 L486.95,297.10 L486.95,296.08 L487.95,296.14 L487.95,297.00 L488.95,297.12 L488.95,295.64 L489.95,295.91 L489.95,296.35 L490.95,296.80 L490.95,297.51 L491.95,297.63 L491.95,297.00 L492.95,295.74 L492.95,297.44 L493.95,298.38 L493.95,297.43 L494.95,299.10 L494.95,298.50 L495.95,297.36 L495.95,298.65 L496.95,296.04 L496.95,298.41 L497.95,297.50 L497.95,296.16 L498.95,296.44 L498.95,294.22 L499.95,294.66 L499.95,295.67 L500.95,296.34 L500.95,295.40 L501.95,297.19 L501.95,295.58 L502.95,296.86 L502.95,296.37 L503.95,296.34 L503.95,295.86 L504.95,296.61 L504.95,295.98 L505.95,297.38 L505.95,296.16 L506.95,296.14 L506.95,297.13 L507.95,296.06 L507.95,297.53 L508.95,297.58 L508.95,296.34 L509.95,296.94 L509.95,298.08 L510.95,297.52 L510.95,295.29 L511.95,296.62 L511.95,297.80 L512.95,296.43 L512.95,297.23 L513.95,297.35 L513.95,297.99 L514.95,297.95 L514.95,299.28 L515.95,298.30 L515.95,297.35 L516.95,298.56 L516.95,297.82 L517.95,298.39 L517.95,299.55 L518.95,299.79 L518.95,298.55 L519.95,299.18 L519.95,300.05 L520.95,299.39 L520.95,300.67 L521.95,301.74 L521.95,300.92 L522.95,300.63 L522.95,301.54 L523.95,301.81 L523.95,301.09 L524.95,300.95 L524.95,302.41 L525.95,302.65 L525.95,301.95 L526.95,302.34 L526.95,301.77 L527.95,302.42 L527.95,300.95 L528.95,302.32 L528.95,301.50 L529.95,302.22 L529.95,302.40 L530.95,303.31 L530.95,302.07 L531.95,302.58 L531.95,303.09 L532.95,303.55 L532.95,302.80 L533.95,303.29 L533.95,303.90 L534.95,305.21 L534.95,304.07 L535.95,304.64 L535.95,304.45 L536.95,304.81 L536.95,304.30 L537.95,303.99 L537.95,306.11 L538.95,305.14 L538.95,304.58 L539.95,305.11 L539.95,305.05 L540.95,305.53 L540.95,304.91 L541.95,303.43 L541.95,305.15 L542.95,305.68 L542.95,303.92 L543.95,305.32 L543.95,304.68 L544.95,305.86 L544.95,306.84 L545.95,307.48 L545.95,306.35 L546.95,306.91 L546.95,307.15 L547.95,307.06 L547.95,307.59 L548.95,307.12 L548.95,307.67 L549.95,306.76 L549.95,308.33 L550.95,308.35 L550.95,307.31 L551.95,307.54 L551.95,307.91 L552.95,307.63 L552.95,308.26 L553.95,308.82 L553.95,308.09 L554.95,308.42 L554.95,308.65 L555.95,307.96 L555.95,308.43 L556.95,308.73 L556.95,308.31 L557.95,309.15 L557.95,307.91 L558.95,308.74 L558.95,308.95 L559.95,309.41 L559.95,308.02 L560.95,310.40 L560.95,308.77 L561.95,310.59 L561.95,310.27 L562.95,310.70 L562.95,311.33 L563.95,311.40 L563.95,311.18 L564.95,311.35 L564.95,311.99 L565.95,311.58 L565.95,312.66 L566.95,312.88 L566.95,312.01 L567.95,313.02 L567.95,311.83 L568.95,313.88 L568.95,313.05 L569.95,313.10 L569.95,313.38 L570.95,312.34 L570.95,313.95 L571.95,311.74 L571.95,312.95 L572.95,312.98 L572.95,312.31 L573.95,313.06 L573.95,313.63 L574.95,314.54 L574.95,313.77 L575.95,314.39 L575.95,313.42 L576.95,315.23 L576.95,314.57 L577.95,316.35 L577.95,315.60 L578.95,316.94 L578.95,316.14 L579.95,315.37 L579.95,316.43 L580.95,316.14 L580.95,316.24 L581.95,315.78 L581.95,316.54 L582.95,315.85 L582.95,316.15 L583.95,316.23 L583.95,315.48 L584.95,316.37 L584.95,315.68 L585.95,315.55 L585.95,316.28 L586.95,316.40 L586.95,314.94 L587.95,316.33 L587.95,316.66 L588.95,316.92 L588.95,317.20 L589.95,318.14 L589.95,317.16 L590.95,316.50 L590.95,318.05 L591.95,318.66 L591.95,318.91 L592.95,320.02 L592.95,318.66 L593.95,318.32 L593.95,318.68 L594.95,318.76 L594.95,317.87 L595.95,317.55 L595.95,317.70 L596.95,318.32 L596.95,317.14 L597.95,317.39 L597.95,318.22 L598.95,317.94 L598.95,318.87 L599.95,318.68 L599.95,318.49 L600.95,318.98 L600.95,318.14 L601.95,317.89 L601.95,318.29 L602.95,317.86 L602.95,317.55 L603.95,317.03 L603.95,318.70 L604.95,316.64 L604.95,316.96 L605.95,315.30 L605.95,316.15 L606.95,315.48 L606.95,314.80 L607.95,314.66 L607.95,314.37 L608.95,313.94 L608.95,313.81 L609.95,313.40 L609.95,312.84 L610.95,315.54 L610.95,313.69 L611.95,315.70 L611.95,314.50 L612.95,314.26 L612.95,315.35 L613.95,314.80 L613.95,315.43 L614.95,315.44 L614.95,314.05 L615.95,315.12 L615.95,315.65 L616.95,314.99 L616.95,315.90 L617.95,314.86 L617.95,314.09 L618.95,313.78 L618.95,314.78 L619.95,313.14 L619.95,314.00 L620.95,313.26 L620.95,314.21 L621.95,312.62 L621.95,313.04 L622.95,312.99 L622.95,312.71 L623.95,313.58 L623.95,313.18 L624.95,314.02 L624.95,314.29 L625.95,315.27 L625.95,314.72 L626.95,313.02 L626.95,314.23 L627.95,313.65 L627.95,314.21 L628.95,314.00 L628.95,313.68 L629.95,312.98 L629.95,313.79 L630.95,312.12 L630.95,312.14 L631.95,311.72 L631.95,312.54 L632.95,312.75 L632.95,312.29 L633.95,312.53 L633.95,311.71 L634.95,312.63 L634.95,311.75 L635.95,312.39 L635.95,312.69 L636.95,312.84 L636.95,312.29 L637.95,313.35 L637.95,312.28 L638.95,313.53 L638.95,312.63 L639.95,312.67 L639.95,313.52 L640.95,313.90 L640.95,313.38 L641.95,313.84 L641.95,312.67 L642.95,313.13 L642.95,313.36 L643.95,313.20 L643.95,313.72 L644.95,312.84 L644.95,313.43 L645.95,312.38 L645.95,312.89 L646.95,312.19 L646.95,313.20 L647.95,312.97 L647.95,311.71 L648.95,312.88 L648.95,312.49 L649.95,313.23 L649.95,312.04 L650.95,312.35 L650.95,311.65 L651.95,311.93 L651.95,310.62 L652.95,310.59 L652.95,311.38 L653.95,310.48 L653.95,311.26 L654.95,309.45 L654.95,310.02 L655.95,309.92 L655.95,308.78 L656.95,310.05 L656.95,309.62 L657.95,310.57 L657.95,309.71 L658.95,309.60 L658.95,310.18 L659.95,310.27 L659.95,310.66 L660.95,310.65 L660.95,310.93 L661.95,310.01 L661.95,311.03 L662.95,310.93 L662.95,310.30 L663.95,311.39 L663.95,310.41 L664.95,310.45 L664.95,309.39 L665.95,309.49 L665.95,310.24 L666.95,310.74 L666.95,310.13 L667.95,310.79 L667.95,310.92 L668.95,310.95 L668.95,311.90 L669.95,311.62 L669.95,312.08 L670.95,310.47 L670.95,310.93 L671.95,309.53 L671.95,310.16 L672.95,308.92 L672.95,308.69 L673.95,308.64 L673.95,309.59 L674.95,309.46 L674.95,309.11 L675.95,309.46 L675.95,308.69 L676.95,309.73 L676.95,309.24 L677.95,309.25 L677.95,309.64 L678.95,309.84 L678.95,309.17 L679.95,309.71 L679.95,309.19 L680.95,309.10 L680.95,309.79 L681.95,309.09 L681.95,308.63 L682.95,308.27 L682.95,307.88 L683.95,308.04 L683.95,308.51 L684.95,308.25 L684.95,308.67 L685.95,308.25 L685.95,308.40 L686.95,308.04 L686.95,308.85 L687.95,308.85 L687.95,307.65 L688.95,307.99 L688.95,308.38 L689.95,308.34 L689.95,307.95 L690.95,308.75 L690.95,307.65 L691.95,307.94 L691.95,308.29 L692.95,308.91 L692.95,307.59 L693.95,308.79 L693.95,309.07 L694.95,309.54 L694.95,308.60 L695.95,309.55 L695.95,308.78 L696.95,309.14 L696.95,309.95 L697.95,310.01 L697.95,308.75 L698.95,310.50 L698.95,309.79 L699.95,309.26 L699.95,309.67 L700.95,308.23 L700.95,307.82 L701.95,307.40 L701.95,307.03 L702.95,307.16 L702.95,307.63 L703.95,307.87 L703.95,307.45 L704.95,307.68 L704.95,307.63 L705.95,306.32 L705.95,305.53 L706.95,304.33 L706.95,304.38 L707.95,305.10 L707.95,304.90 L708.95,304.89 L708.95,305.52 L709.95,304.76 L709.95,304.96 L710.95,304.22 L710.95,304.51 L711.95,304.71 L711.95,304.93 L712.95,305.86 L712.95,305.35 L713.95,304.77 L713.95,305.60 L714.95,304.24 L714.95,305.34 L715.95,304.41 L715.95,305.40 L716.95,304.79 L716.95,304.62 L717.95,304.12 L717.95,304.68 L718.95,304.26 L718.95,304.91 L719.95,304.61 L719.95,303.26 L720.95,303.88 L720.95,305.27 L721.95,304.65 L721.95,304.38 L722.95,305.23 L722.95,304.63 L723.95,304.88 L723.95,305.68 L724.95,305.52 L724.95,306.05 L725.95,307.06 L725.95,306.03 L726.95,306.17 L726.95,305.70 L727.95,304.44 L727.95,305.00 L728.95,304.73 L728.95,304.35 L729.95,304.76 L729.95,304.46 L730.95,303.96 L730.95,305.02 L731.95,304.42 L731.95,304.93 L732.95,303.64 L732.95,304.01 L733.95,304.01 L733.95,303.26 L734.95,303.75 L734.95,302.74 L735.95,303.26 L735.95,302.98 L736.95,303.56 L736.95,302.77 L737.95,303.06 L737.95,303.18 L738.95,304.08 L738.95,303.34 L739.95,304.22 L739.95,304.54 L740.95,304.69 L740.95,305.06 L741.95,305.25 L741.95,305.59 L742.95,305.96 L742.95,305.76 L743.95,305.34 L743.95,304.87 L744.95,304.35 L744.95,304.58 L745.95,304.45 L745.95,303.64 L746.95,305.21 L746.95,304.74 L747.95,305.10 L747.95,304.28 L748.95,305.41 L748.95,304.68 L749.95,305.83 L749.95,305.42 L750.95,305.57 L750.95,306.32 L751.95,307.10 L751.95,306.12 L752.95,306.81 L752.95,307.46 L753.95,303.61 L753.95,304.42 L754.95,302.49 L754.95,302.76 L755.95,303.17 L755.95,302.90 L756.95,302.98 L756.95,303.63 L757.95,304.36 L757.95,303.17 L758.95,304.45 L758.95,304.06 L759.95,303.50 L759.95,302.85 L760.95,301.82 L760.95,302.30 L761.95,301.36 L761.95,301.67 L762.95,301.20 L762.95,301.70 L763.95,302.45 L763.95,301.31 L764.95,303.01 L764.95,301.94 L765.95,302.76 L765.95,302.05 L766.95,302.90 L766.95,302.42 L767.95,302.96 L767.95,302.30 L768.95,302.89 L768.95,303.18 L769.95,302.71 L769.95,303.39 L770.95,303.09 L770.95,303.74 L771.95,303.61 L771.95,303.82 L772.95,303.20 L772.95,304.23 L773.95,303.98 L773.95,303.34 L774.95,304.47 L774.95,303.92 L775.95,303.48 L775.95,303.91 L776.95,303.76 L776.95,302.65 L777.95,302.30 L777.95,301.47 L778.95,301.54 L778.95,302.05 L779.95,301.88 L779.95,302.39 L780.95,301.76 L780.95,302.12 L781.95,301.52 L781.95,302.23 L782.95,302.32 L782.95,301.41 L783.95,301.99 L783.95,300.76 L784.95,301.38 L784.95,301.96 L785.95,301.21 L785.95,301.61 L786.95,301.19 L786.95,301.86 L787.95,301.73 L787.95,302.26 L788.95,302.50 L788.95,301.91 L789.95,302.63 L789.95,301.90 L790.95,301.37 L790.95,302.82 L791.95,303.60 L791.95,302.66 L792.95,303.23 L792.95,303.69 L793.95,303.87 L793.95,303.38 L794.95,303.35 L794.95,304.02 L795.95,303.15 L795.95,303.82 L796.95,304.02 L796.95,303.50 L797.95,304.13 L797.95,303.44 L798.95,303.63 L798.95,303.81 L799.95,303.90 L799.95,303.95 L800.95,304.08 L800.95,303.34 L801.95,303.48 L801.95,304.32 L802.95,304.18 L802.95,304.67 L803.95,303.67 L803.95,304.42 L804.95,304.97 L804.95,304.68 L805.95,304.73 L805.95,305.13 L806.95,305.54 L806.95,304.54 L807.95,304.83 L807.95,305.14 L808.95,304.89 L808.95,305.11 L809.95,305.30 L809.95,304.65 L810.95,304.67 L810.95,305.36 L811.95,305.05 L811.95,304.93 L812.95,305.31 L812.95,304.92 L813.95,306.27 L813.95,304.90 L814.95,306.31 L814.95,306.06 L815.95,306.86 L815.95,307.56 L816.95,307.97 L816.95,306.81 L817.95,307.84 L817.95,308.91 L818.95,304.92 L818.95,305.50 L819.95,303.94 L819.95,304.12 L820.95,304.91 L820.95,304.43 L821.95,305.02 L821.95,304.59 L822.95,305.54 L822.95,305.77 L823.95,306.43 L823.95,306.18 L824.95,306.82 L824.95,306.88 L825.95,308.03 L825.95,306.92 L826.95,307.35 L826.95,308.08 L827.95,308.28 L827.95,307.94 L828.95,307.92 L828.95,307.06 L829.95,307.25 L829.95,306.54 L830.95,305.81 L830.95,305.43 L831.95,305.14 L831.95,305.76 L832.95,305.52 L832.95,304.76 L833.95,305.50 L833.95,306.23 L834.95,306.26 L834.95,305.36 L835.95,305.87 L835.95,306.05 L836.95,306.36 L836.95,305.92 L837.95,306.28 L837.95,307.44 L838.95,307.60 L838.95,307.19 L839.95,308.33 L839.95,307.08 L840.95,307.73 L840.95,308.14 L841.95,308.34 L841.95,307.82 L842.95,308.67 L842.95,309.54 L843.95,309.77 L843.95,308.72 L844.95,309.06 L844.95,310.25 L845.95,309.38 L845.95,309.73 L846.95,308.68 L846.95,309.58 L847.95,308.01 L847.95,309.57 L848.95,309.23 L848.95,309.75 L849.95,309.86 L849.95,310.70 L850.95,310.49 L850.95,310.86 L851.95,311.38 L851.95,311.00 L852.95,310.94 L852.95,311.27 L853.95,311.32 L853.95,310.32 L854.95,311.57 L854.95,310.88 L855.95,310.42 L855.95,311.31 L856.95,310.39 L856.95,310.93 L857.95,310.32 L857.95,310.01 L858.95,310.82 L858.95,311.28 L859.95,311.62 L859.95,312.07 L860.95,312.42 L860.95,311.77 L861.95,312.75 L861.95,312.39 L862.95,313.71 L862.95,312.97 L863.95,312.13 L863.95,312.91 L864.95,312.37 L864.95,311.61 L865.95,312.29 L865.95,313.03 L866.95,313.33 L866.95,312.00 L867.95,312.15 L867.95,312.43 L868.95,311.76 L868.95,312.14 L869.95,312.91 L869.95,311.59 L870.95,312.04 L870.95,311.20 L871.95,310.67 L871.95,311.47 L872.95,310.96 L872.95,311.74 L873.95,310.81 L873.95,311.24 L874.95,311.37 L874.95,310.85 L875.95,311.54 L875.95,310.86 L876.95,312.33 L876.95,311.47 L877.95,312.51 L877.95,312.11 L878.95,313.07 L878.95,312.49 L879.95,313.52 L879.95,312.65 L880.95,313.73 L880.95,313.46 L881.95,312.66 L881.95,312.79 L882.95,312.72 L882.95,311.60 L883.95,310.70 L883.95,311.16 L884.95,310.80 L884.95,310.33 L885.95,310.39 L885.95,309.82 L886.95,309.69 L886.95,310.10 L887.95,308.95 L887.95,310.48 L888.95,308.63 L888.95,309.94 L889.95,309.27 L889.95,308.30 L890.95,309.03 L890.95,308.37 L891.95,308.02 L891.95,308.25 L892.95,308.31 L892.95,307.88 L893.95,308.75 L893.95,309.25 L894.95,309.56 L894.95,309.01 L895.95,308.93 L895.95,309.99 L896.95,309.57 L896.95,309.97 L897.95,306.91 L897.95,307.48 L898.95,304.00 L898.95,302.84 L899.95,303.32 L899.95,304.22 L900.95,304.46 L900.95,303.81 L901.95,304.72 L901.95,305.85 L902.95,306.60 L902.95,306.07 L903.95,306.41 L903.95,307.04 L904.95,307.06 L904.95,307.44 L905.95,308.11 L905.95,307.07 L906.95,307.34 L906.95,308.59 L907.95,306.57 L907.95,307.86 L908.95,305.50 L908.95,306.39 L909.95,304.79 L909.95,305.32 L910.95,305.82 L910.95,305.03 L911.95,306.05 L911.95,305.20 L912.95,304.49 L912.95,304.96 L913.95,304.13 L913.95,305.10 L914.95,303.83 L914.95,304.93 L915.95,302.66 L915.95,304.48 L916.95,303.73 L916.95,302.18 L917.95,305.00 L917.95,303.59 L918.95,304.23 L918.95,305.34 L919.95,305.99 L919.95,304.86 L920.95,307.00 L920.95,306.11 L921.95,307.11 L921.95,305.42 L922.95,306.75 L922.95,305.98 L923.95,306.82 L923.95,308.45 L924.95,307.11 L924.95,306.72 L925.95,307.27 L925.95,306.26 L926.95,307.09 L926.95,306.29 L927.95,305.52 L927.95,306.45 L928.95,305.28 L928.95,305.86 L929.95,304.37 L929.95,305.00 L930.95,303.37 L930.95,305.42 L931.95,305.09 L931.95,304.07 L932.95,303.48 L932.95,304.49 L933.95,302.99 L933.95,303.90 L934.95,302.96 L934.95,302.23 L935.95,301.62 L935.95,302.71 L936.95,301.79 L936.95,302.80 L937.95,302.75 L937.95,302.23 L938.95,301.22 L938.95,302.85 L939.95,302.65 L939.95,303.21 L940.95,303.10 L940.95,303.83 L941.95,303.29 L941.95,303.90 L942.95,302.87 L942.95,302.32 L943.95,301.42 L943.95,301.52 L944.95,301.95 L944.95,300.83 L945.95,300.45 L945.95,300.98 L946.95,300.14 L946.95,301.45 L947.95,301.13 L947.95,301.58 L948.95,300.90 L948.95,301.64 L949.95,301.49 L949.95,301.27 L950.95,301.74 L950.95,301.48 L951.95,301.94 L951.95,303.62 L952.95,302.25 L952.95,301.51 L953.95,301.07 L953.95,302.50 L954.95,301.91 L954.95,302.87 L955.95,303.56 L955.95,302.55 L956.95,301.87 L956.95,303.10 L957.95,303.51 L957.95,302.88 L958.95,302.73 L958.95,303.82 L959.95,302.33 L959.95,303.11 L960.95,302.61 L960.95,301.52 L961.95,301.20 L961.95,302.88 L962.95,300.93 L962.95,302.38 L963.95,301.33 L963.95,302.12 L964.95,300.18 L964.95,302.04 L965.95,301.94 L965.95,300.33 L966.95,300.08 L966.95,301.36 L967.95,302.11 L967.95,301.47 L968.95,300.21 L968.95,301.48 L969.95,300.53 L969.95,301.15 L970.95,301.71 L970.95,300.91 L971.95,301.73 L971.95,302.78 L972.95,302.08 L972.95,302.32 L973.95,302.05 L973.95,300.82 L974.95,303.54 L974.95,302.42 L975.95,303.08 L975.95,303.51 L976.95,304.00 L976.95,302.93 L977.95,297.90 L977.95,297.14 L978.95,294.22 L978.95,296.06 L979.95,296.67 L979.95,295.15 L980.95,298.06 L980.95,296.88 L981.95,298.82 L981.95,298.14 L982.95,300.68 L982.95,298.27 L983.95,298.24 L983.95,299.05 L984.95,297.31 L984.95,298.70 L985.95,299.08 L985.95,297.29 L986.95,298.67 L986.95,298.16 L987.95,298.83 L987.95,298.34 L988.95,298.51 L988.95,299.40 L989.95,299.02 L989.95,297.80 L990.95,296.94 L990.95,297.52 L991.95,294.78 L991.95,296.30 L992.95,294.72 L992.95,295.74 L993.95,295.26 L993.95,296.66 L994.95,295.48 L994.95,296.30 L995.95,296.28 L995.95,295.05 L996.95,295.53 L996.95,296.28 L997.95,295.95 L997.95,294.51 L998.95,295.51 L998.95,296.62 L999.95,296.72 L999.95,295.50 L1000.95,295.80 L1000.95,296.69 L1001.95,295.88 L1001.95,293.76 L1002.95,294.15 L1002.95,295.22 L1003.95,293.51 L1003.95,294.98 L1004.95,292.88 L1004.95,292.60 L1005.95,292.43 L1005.95,290.62 L1006.95,291.60 L1006.95,291.00 L1007.95,293.30 L1007.95,291.89 L1008.95,292.62 L1008.95,292.15 L1009.95,294.05 L1009.95,292.43 L1010.95,293.33 L1010.95,294.35 L1011.95,295.84 L1011.95,293.74 L1012.95,292.80 L1012.95,293.44 L1013.95,291.62 L1013.95,290.09 L1014.95,288.00 L1014.95,289.22 L1015.95,287.97 L1015.95,288.56 L1016.95,289.42 L1016.95,287.19 L1017.95,289.21 L1017.95,287.80 L1018.95,288.01 L1018.95,288.99 L1019.95,287.79 L1019.95,288.28 L1020.95,287.03 L1020.95,287.34 L1021.95,286.93 L1021.95,287.96 L1022.95,286.09 L1022.95,288.70 L1023.95,284.96 L1023.95,283.82 L1024.95,282.79 L1024.95,281.24 L1025.95,282.36 L1025.95,283.27 L1026.95,283.42 L1026.95,284.38 L1027.95,285.34 L1027.95,284.80 L1028.95,286.17 L1028.95,285.58 L1029.95,285.11 L1029.95,286.58 L1030.95,285.00 L1030.95,288.24 L1031.95,288.65 L1031.95,291.87 L1032.95,283.22 L1032.95,287.00 L1033.95,277.79 L1033.95,283.33 L1034.95,276.49 L1034.95,282.32 L1035.95,275.32 L1035.95,280.93 L1036.95,276.93 L1036.95,281.64 L1037.95,280.23 L1037.95,275.25 L1038.95,271.24 L1038.95,277.84 L1039.95,278.27 L1039.95,273.13 L1040.95,277.86 L1040.95,273.03 L1041.95,275.97 L1041.95,270.69 L1042.95,269.12 L1042.95,274.37 L1043.95,268.48 L1043.95,273.67 L1044.95,268.16 L1044.95,273.05 L1045.95,266.66 L1045.95,271.91 L1046.95,265.44 L1046.95,271.87 L1047.95,268.54 L1047.95,262.79 L1048.95,266.08 L1048.95,258.40 L1049.95,261.80 L1049.95,253.87 L1050.95,251.00 L1050.95,259.32 L1051.95,257.41 L1051.95,249.62 L1052.95,250.75 L1052.95,244.56 L1053.95,247.34 L1053.95,242.25 L1054.90,245.09 L1054.90,236.79 L1054.95,245.93 L1054.95,237.89 L1055.95,243.13 L1055.95,243.96 L1056.00,243.36 L1056.00,243.60 L1056.70,250.14 L1056.70,249.97 L1056.95,253.13 L1056.95,252.86 L1057.95,264.85 L1057.95,264.88 L1058.95,276.74 L1058.95,276.80 L1059.95,288.71 L1059.95,288.68 L1060.95,300.56 L1060.95,300.63 L1061.95,312.24 L1061.95,312.32 L1062.95,323.93 L1062.95,323.94 L1063.95,335.59 L1063.95,335.57 L1064.95,346.58 L1064.95,346.64 L1065.95,357.31 L1065.95,357.37 L1066.95,368.01 L1066.95,368.05 L1067.95,378.66 L1067.95,378.69 L1068.95,390.73 L1068.95,390.77 L1069.95,402.71 L1069.95,402.77 L1070.95,413.91 L1070.95,413.89 L1071.95,423.03 L1071.95,423.08 L1072.95,429.83 L1072.95,429.77 L1073.95,437.10 L1073.95,437.13 L1074.95,444.63 L1074.95,444.58 L1075.95,452.16 L1075.95,452.09 L1076.95,459.82 L1076.95,459.89 L1077.95,467.63 L1077.95,467.58" fill="none" stroke="#000" stroke-width="2.08" stroke-linejoin="round" stroke-linecap="square"/>
<path d="M1033.8,284 L1036,280 L1038.75,277.5 L1042.5,271.5 L1047,267.2 L1049.25,259.5 L1052.25,252.5 L1054.6,243.5" fill="none" stroke="#000" stroke-width="4.2" stroke-linejoin="bevel" stroke-linecap="butt"/>
<path d="M1056.4,247 L1056.7,250 L1060.9,300 L1064.33,340 L1068.07,380 L1069.7,400 L1071.5,420 L1073.2,431.5 L1076,452.5 L1078,468" fill="none" stroke="#000" stroke-width="2.5" stroke-linejoin="round" stroke-linecap="butt"/>
<g fill="#0000ff">
<circle cx="159.45" cy="451.5" r="2.8"/>
<circle cx="1055.47" cy="223.47" r="2.8"/>
<circle cx="1053.47" cy="230.33" r="2.8"/>
<circle cx="1050.47" cy="237.33" r="2.8"/>
<circle cx="1056.53" cy="236.33" r="2.8"/>
<circle cx="1048.47" cy="244.33" r="2.8"/>
<circle cx="1054.35" cy="242.33" r="2.8"/>
<circle cx="1073.5" cy="428.3" r="2.8"/>
<circle cx="1074.4" cy="438.4" r="2.8"/>
<circle cx="1076.4" cy="447.3" r="2.8"/>
<circle cx="1077.3" cy="456.4" r="2.8"/>
<circle cx="1078" cy="464.7" r="2.8"/>
</g></g>
<g stroke="#000" stroke-width="1.11" fill="none">
<line x1="238.5" y1="534.5" x2="238.5" y2="539.5"/>
<line x1="364.5" y1="534.5" x2="364.5" y2="539.5"/>
<line x1="489.5" y1="534.5" x2="489.5" y2="539.5"/>
<line x1="615.5" y1="534.5" x2="615.5" y2="539.5"/>
<line x1="741.5" y1="534.5" x2="741.5" y2="539.5"/>
<line x1="866.5" y1="534.5" x2="866.5" y2="539.5"/>
<line x1="992.5" y1="534.5" x2="992.5" y2="539.5"/>
<line x1="145.5" y1="534.5" x2="150.5" y2="534.5"/>
<line x1="145.5" y1="476.5" x2="150.5" y2="476.5"/>
<line x1="145.5" y1="419.5" x2="150.5" y2="419.5"/>
<line x1="145.5" y1="361.5" x2="150.5" y2="361.5"/>
<line x1="145.5" y1="303.5" x2="150.5" y2="303.5"/>
<line x1="145.5" y1="245.5" x2="150.5" y2="245.5"/>
<line x1="145.5" y1="188.5" x2="150.5" y2="188.5"/>
<line x1="145.5" y1="130.5" x2="150.5" y2="130.5"/>
<line x1="145.5" y1="72.5" x2="150.5" y2="72.5"/>
</g>
<rect x="150.5" y="72.5" width="930" height="462" fill="none" stroke="#000" stroke-width="1.11" stroke-linejoin="miter"/>
<text class="tk" x="237.87" y="555" text-anchor="middle" textLength="17.2" lengthAdjust="spacingAndGlyphs">20</text>
<text class="tk" x="363.55" y="555" text-anchor="middle" textLength="17.2" lengthAdjust="spacingAndGlyphs">30</text>
<text class="tk" x="489.22" y="555" text-anchor="middle" textLength="17.2" lengthAdjust="spacingAndGlyphs">40</text>
<text class="tk" x="614.90" y="555" text-anchor="middle" textLength="17.2" lengthAdjust="spacingAndGlyphs">50</text>
<text class="tk" x="740.58" y="555" text-anchor="middle" textLength="17.2" lengthAdjust="spacingAndGlyphs">60</text>
<text class="tk" x="866.25" y="555" text-anchor="middle" textLength="17.2" lengthAdjust="spacingAndGlyphs">70</text>
<text class="tk" x="991.93" y="555" text-anchor="middle" textLength="17.2" lengthAdjust="spacingAndGlyphs">80</text>
<text class="tk" x="140.3" y="540" text-anchor="end" textLength="8.3" lengthAdjust="spacingAndGlyphs">0</text>
<text class="tk" x="140.3" y="482" text-anchor="end" textLength="8.3" lengthAdjust="spacingAndGlyphs">5</text>
<text class="tk" x="140.3" y="424" text-anchor="end" textLength="17.4" lengthAdjust="spacingAndGlyphs">10</text>
<text class="tk" x="140.3" y="366" text-anchor="end" textLength="17.4" lengthAdjust="spacingAndGlyphs">15</text>
<text class="tk" x="140.3" y="308" text-anchor="end" textLength="17.4" lengthAdjust="spacingAndGlyphs">20</text>
<text class="tk" x="140.3" y="251" text-anchor="end" textLength="17.4" lengthAdjust="spacingAndGlyphs">25</text>
<text class="tk" x="140.3" y="193" text-anchor="end" textLength="17.4" lengthAdjust="spacingAndGlyphs">30</text>
<text class="tk" x="140.3" y="135" text-anchor="end" textLength="17.4" lengthAdjust="spacingAndGlyphs">35</text>
<text class="tk" x="140.3" y="78" text-anchor="end" textLength="17.4" lengthAdjust="spacingAndGlyphs">40</text>
<text class="ti" y="64" ><tspan x="455.56" textLength="96.5" lengthAdjust="spacingAndGlyphs">2023-12-01</tspan> <tspan x="557.31" textLength="5.88" lengthAdjust="spacingAndGlyphs">-</tspan> <tspan x="568.44" textLength="28.5" lengthAdjust="spacingAndGlyphs">Cor</tspan> <tspan x="602.18" textLength="21.0" lengthAdjust="spacingAndGlyphs">70</tspan> <tspan x="628.44" textLength="5.88" lengthAdjust="spacingAndGlyphs">-</tspan> <tspan x="639.56" textLength="66.25" lengthAdjust="spacingAndGlyphs">LWA009</tspan> <tspan x="711.06" textLength="5.88" lengthAdjust="spacingAndGlyphs">-</tspan> <tspan x="722.18" textLength="24.25" lengthAdjust="spacingAndGlyphs">Pol</tspan> <tspan x="751.68" textLength="22.75" lengthAdjust="spacingAndGlyphs">XX</tspan></text>
<text class="tk" y="574" ><tspan x="556.62" textLength="71.75" lengthAdjust="spacingAndGlyphs">Frequency</tspan> <tspan x="632.74" textLength="40.62" lengthAdjust="spacingAndGlyphs">(MHz)</tspan></text>
<text class="tk" y="0" transform="translate(113.0,304.3) rotate(-90)"><tspan x="-42.75" textLength="42.0" lengthAdjust="spacingAndGlyphs">Power</tspan> <tspan x="3.63" textLength="39.12" lengthAdjust="spacingAndGlyphs">(CPU)</tspan></text>
<rect x="899.5" y="79.5" width="174" height="67" rx="2.8" ry="2.8" fill="#ffffff" fill-opacity="0.8" stroke="#cccccc" stroke-opacity="0.8" stroke-width="1.11"/>
<line x1="904.3" y1="91.2" x2="932.1" y2="91.2" stroke="#000" stroke-width="2.08" stroke-linecap="square"/>
<circle cx="918.5" cy="112.45" r="2.8" fill="#0000ff"/>
<rect x="904.4" y="128.6" width="27.8" height="9.3" fill="#808080" fill-opacity="0.4" stroke="#808080" stroke-opacity="0.4" stroke-width="1.39"/>
<text class="tk" y="95" ><tspan x="943.38" textLength="50.62" lengthAdjust="spacingAndGlyphs">Median</tspan> <tspan x="998.38" textLength="67.25" lengthAdjust="spacingAndGlyphs">Spectrum</tspan></text>
<text class="tk" y="116" ><tspan x="943.38" textLength="55.62" lengthAdjust="spacingAndGlyphs">Flagged</tspan> <tspan x="1003.38" textLength="64.12" lengthAdjust="spacingAndGlyphs">Channels</tspan></text>
<text class="tk" y="137" ><tspan x="943.38" textLength="50.62" lengthAdjust="spacingAndGlyphs">Median</tspan> <tspan x="998.38" textLength="29.88" lengthAdjust="spacingAndGlyphs">Abs.</tspan> <tspan x="1032.63" textLength="30.75" lengthAdjust="spacingAndGlyphs">Dev.</tspan></text>
</svg></body></html>
